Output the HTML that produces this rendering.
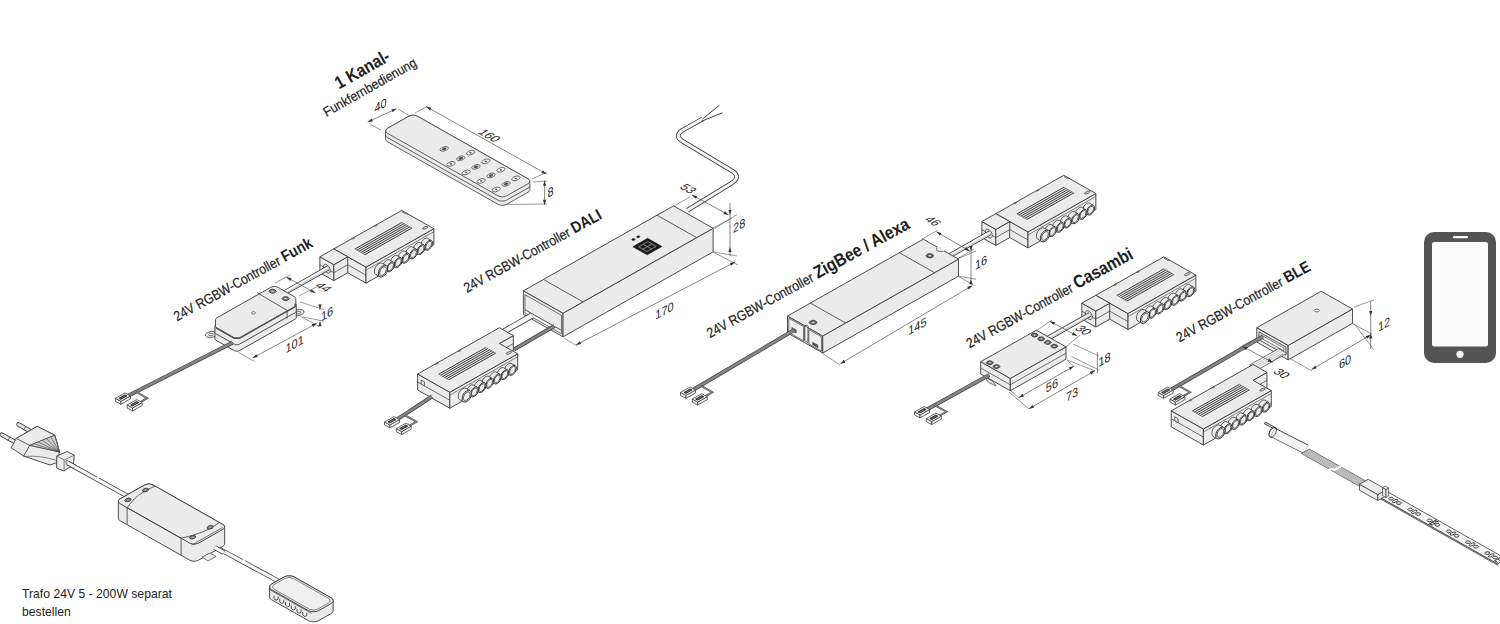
<!DOCTYPE html>
<html><head><meta charset="utf-8"><style>
html,body{margin:0;padding:0;background:#fff;width:1500px;height:624px;overflow:hidden}
svg{display:block}
text{font-family:"Liberation Sans",sans-serif}
</style></head><body>
<svg width="1500" height="624" viewBox="0 0 1500 624">
<rect width="1500" height="624" fill="#fff"/>
<text transform="translate(339.00,89.50) rotate(-29.5) scale(0.86,1)" font-size="18" font-weight="bold" text-anchor="start" fill="#1e1e1e" >1 Kanal-</text>
<text transform="translate(326.50,117.00) rotate(-29.5) scale(0.9,1)" font-size="13.5" font-weight="normal" text-anchor="start" fill="#1e1e1e" stroke="#1e1e1e" stroke-width="0.22">Funkfernbedienung</text>
<text transform="translate(177.00,321.50) rotate(-28.8) scale(0.87,1)" font-size="14" font-weight="normal" text-anchor="start" fill="#1e1e1e" stroke="#1e1e1e" stroke-width="0.22">24V RGBW-Controller <tspan font-weight="bold" font-size="16" stroke-width="0">Funk</tspan></text>
<text transform="translate(466.90,293.00) rotate(-28.8) scale(0.87,1)" font-size="14" font-weight="normal" text-anchor="start" fill="#1e1e1e" stroke="#1e1e1e" stroke-width="0.22">24V RGBW-Controller <tspan font-weight="bold" font-size="16" stroke-width="0">DALI</tspan></text>
<text transform="translate(710.00,338.20) rotate(-28.8) scale(0.87,1)" font-size="14" font-weight="normal" text-anchor="start" fill="#1e1e1e" stroke="#1e1e1e" stroke-width="0.22">24V RGBW-Controller <tspan font-weight="bold" font-size="18" stroke-width="0">ZigBee / Alexa</tspan></text>
<text transform="translate(969.50,348.50) rotate(-28.8) scale(0.87,1)" font-size="14" font-weight="normal" text-anchor="start" fill="#1e1e1e" stroke="#1e1e1e" stroke-width="0.22">24V RGBW-Controller <tspan font-weight="bold" font-size="18" stroke-width="0">Casambi</tspan></text>
<text transform="translate(1179.50,342.50) rotate(-28.8) scale(0.87,1)" font-size="14" font-weight="normal" text-anchor="start" fill="#1e1e1e" stroke="#1e1e1e" stroke-width="0.22">24V RGBW-Controller <tspan font-weight="bold" font-size="16" stroke-width="0">BLE</tspan></text>
<text transform="translate(22.00,598.40) scale(0.945,1)" font-size="12.9" font-weight="normal" text-anchor="start" fill="#1e1e1e" >Trafo 24V 5 - 200W separat</text>
<text transform="translate(22.00,616.30) scale(0.945,1)" font-size="12.9" font-weight="normal" text-anchor="start" fill="#1e1e1e" >bestellen</text>
<polygon points="385.65,135.10 385.86,134.20 386.47,133.36 387.45,132.64 408.77,120.57 410.05,120.02 411.53,119.67 413.13,119.55 414.72,119.67 416.20,120.02 417.48,120.57 528.01,183.11 528.99,183.83 529.61,184.67 529.82,185.57 529.82,189.77 529.61,190.68 528.99,191.51 528.01,192.24 506.69,204.30 505.42,204.85 503.93,205.20 502.34,205.32 500.75,205.20 499.26,204.85 497.99,204.30 387.45,141.76 386.47,141.04 385.86,140.20 385.65,139.30" fill="#ebebeb" stroke="#3a3a3a" stroke-width="0.8" />
<polygon points="385.65,130.80 385.86,129.90 386.47,129.06 387.45,128.34 408.77,116.27 410.05,115.72 411.53,115.37 413.13,115.25 414.72,115.37 416.20,115.72 417.48,116.27 528.01,178.81 528.99,179.53 529.61,180.37 529.82,181.27 529.82,185.57 529.61,186.47 528.99,187.31 528.01,188.04 506.69,200.10 505.42,200.65 503.93,201.00 502.34,201.12 500.75,201.00 499.26,200.65 497.99,200.10 387.45,137.56 386.47,136.84 385.86,136.00 385.65,135.10" fill="#ebebeb" stroke="#3a3a3a" stroke-width="0.8" />
<rect x="0.00" y="0.00" width="34.50" height="137.00" rx="5" transform="matrix(0.8704,-0.4924,0.8704,0.4924,383.10,130.80)" fill="#ebebeb" stroke="#3a3a3a" stroke-width="0.8" vector-effect="non-scaling-stroke"/>
<ellipse cx="0" cy="0" rx="4.00" ry="2.60" transform="matrix(0.8704,-0.4924,0.8704,0.4924,444.20,148.92)" fill="#f0f0f0" stroke="#3a3a3a" stroke-width="0.7" vector-effect="non-scaling-stroke"/>
<ellipse cx="0" cy="0" rx="2.00" ry="1.30" transform="matrix(0.8704,-0.4924,0.8704,0.4924,444.20,148.92)" fill="#555" stroke="#3a3a3a" stroke-width="0.5" vector-effect="non-scaling-stroke"/>
<ellipse cx="0" cy="0" rx="4.00" ry="2.60" transform="matrix(0.8704,-0.4924,0.8704,0.4924,450.90,163.84)" fill="#f0f0f0" stroke="#3a3a3a" stroke-width="0.7" vector-effect="non-scaling-stroke"/>
<ellipse cx="0" cy="0" rx="0.80" ry="0.80" transform="matrix(0.8704,-0.4924,0.8704,0.4924,450.90,163.84)" fill="#555" stroke="#3a3a3a" stroke-width="0.3" vector-effect="non-scaling-stroke"/>
<ellipse cx="0" cy="0" rx="4.00" ry="2.60" transform="matrix(0.8704,-0.4924,0.8704,0.4924,460.74,158.28)" fill="#f0f0f0" stroke="#3a3a3a" stroke-width="0.7" vector-effect="non-scaling-stroke"/>
<ellipse cx="0" cy="0" rx="2.00" ry="1.30" transform="matrix(0.8704,-0.4924,0.8704,0.4924,460.74,158.28)" fill="#555" stroke="#3a3a3a" stroke-width="0.5" vector-effect="non-scaling-stroke"/>
<ellipse cx="0" cy="0" rx="4.00" ry="2.60" transform="matrix(0.8704,-0.4924,0.8704,0.4924,470.57,152.71)" fill="#f0f0f0" stroke="#3a3a3a" stroke-width="0.7" vector-effect="non-scaling-stroke"/>
<ellipse cx="0" cy="0" rx="0.80" ry="0.80" transform="matrix(0.8704,-0.4924,0.8704,0.4924,470.57,152.71)" fill="#555" stroke="#3a3a3a" stroke-width="0.3" vector-effect="non-scaling-stroke"/>
<ellipse cx="0" cy="0" rx="4.00" ry="2.60" transform="matrix(0.8704,-0.4924,0.8704,0.4924,466.13,172.46)" fill="#f0f0f0" stroke="#3a3a3a" stroke-width="0.7" vector-effect="non-scaling-stroke"/>
<ellipse cx="0" cy="0" rx="0.80" ry="0.80" transform="matrix(0.8704,-0.4924,0.8704,0.4924,466.13,172.46)" fill="#555" stroke="#3a3a3a" stroke-width="0.3" vector-effect="non-scaling-stroke"/>
<ellipse cx="0" cy="0" rx="4.00" ry="2.60" transform="matrix(0.8704,-0.4924,0.8704,0.4924,475.97,166.89)" fill="#f0f0f0" stroke="#3a3a3a" stroke-width="0.7" vector-effect="non-scaling-stroke"/>
<ellipse cx="0" cy="0" rx="2.00" ry="1.30" transform="matrix(0.8704,-0.4924,0.8704,0.4924,475.97,166.89)" fill="#555" stroke="#3a3a3a" stroke-width="0.5" vector-effect="non-scaling-stroke"/>
<ellipse cx="0" cy="0" rx="4.00" ry="2.60" transform="matrix(0.8704,-0.4924,0.8704,0.4924,485.80,161.33)" fill="#f0f0f0" stroke="#3a3a3a" stroke-width="0.7" vector-effect="non-scaling-stroke"/>
<ellipse cx="0" cy="0" rx="0.80" ry="0.80" transform="matrix(0.8704,-0.4924,0.8704,0.4924,485.80,161.33)" fill="#555" stroke="#3a3a3a" stroke-width="0.3" vector-effect="non-scaling-stroke"/>
<ellipse cx="0" cy="0" rx="4.00" ry="2.60" transform="matrix(0.8704,-0.4924,0.8704,0.4924,481.19,180.98)" fill="#f0f0f0" stroke="#3a3a3a" stroke-width="0.7" vector-effect="non-scaling-stroke"/>
<ellipse cx="0" cy="0" rx="0.80" ry="0.80" transform="matrix(0.8704,-0.4924,0.8704,0.4924,481.19,180.98)" fill="#555" stroke="#3a3a3a" stroke-width="0.3" vector-effect="non-scaling-stroke"/>
<ellipse cx="0" cy="0" rx="4.00" ry="2.60" transform="matrix(0.8704,-0.4924,0.8704,0.4924,491.02,175.41)" fill="#f0f0f0" stroke="#3a3a3a" stroke-width="0.7" vector-effect="non-scaling-stroke"/>
<ellipse cx="0" cy="0" rx="2.00" ry="1.30" transform="matrix(0.8704,-0.4924,0.8704,0.4924,491.02,175.41)" fill="#555" stroke="#3a3a3a" stroke-width="0.5" vector-effect="non-scaling-stroke"/>
<ellipse cx="0" cy="0" rx="4.00" ry="2.60" transform="matrix(0.8704,-0.4924,0.8704,0.4924,500.86,169.85)" fill="#f0f0f0" stroke="#3a3a3a" stroke-width="0.7" vector-effect="non-scaling-stroke"/>
<ellipse cx="0" cy="0" rx="0.80" ry="0.80" transform="matrix(0.8704,-0.4924,0.8704,0.4924,500.86,169.85)" fill="#555" stroke="#3a3a3a" stroke-width="0.3" vector-effect="non-scaling-stroke"/>
<ellipse cx="0" cy="0" rx="4.00" ry="2.60" transform="matrix(0.8704,-0.4924,0.8704,0.4924,496.25,189.50)" fill="#f0f0f0" stroke="#3a3a3a" stroke-width="0.7" vector-effect="non-scaling-stroke"/>
<ellipse cx="0" cy="0" rx="0.80" ry="0.80" transform="matrix(0.8704,-0.4924,0.8704,0.4924,496.25,189.50)" fill="#555" stroke="#3a3a3a" stroke-width="0.3" vector-effect="non-scaling-stroke"/>
<ellipse cx="0" cy="0" rx="4.00" ry="2.60" transform="matrix(0.8704,-0.4924,0.8704,0.4924,506.08,183.93)" fill="#f0f0f0" stroke="#3a3a3a" stroke-width="0.7" vector-effect="non-scaling-stroke"/>
<ellipse cx="0" cy="0" rx="2.00" ry="1.30" transform="matrix(0.8704,-0.4924,0.8704,0.4924,506.08,183.93)" fill="#555" stroke="#3a3a3a" stroke-width="0.5" vector-effect="non-scaling-stroke"/>
<ellipse cx="0" cy="0" rx="4.00" ry="2.60" transform="matrix(0.8704,-0.4924,0.8704,0.4924,515.92,178.37)" fill="#f0f0f0" stroke="#3a3a3a" stroke-width="0.7" vector-effect="non-scaling-stroke"/>
<ellipse cx="0" cy="0" rx="0.80" ry="0.80" transform="matrix(0.8704,-0.4924,0.8704,0.4924,515.92,178.37)" fill="#555" stroke="#3a3a3a" stroke-width="0.3" vector-effect="non-scaling-stroke"/>
<line x1="370.50" y1="124.50" x2="381.00" y2="130.00" stroke="#555" stroke-width="0.6" />
<line x1="398.00" y1="109.00" x2="410.00" y2="116.00" stroke="#555" stroke-width="0.6" />
<line x1="367.70" y1="122.10" x2="396.50" y2="108.70" stroke="#444" stroke-width="0.65" />
<polygon points="396.50,108.70 392.64,112.26 391.29,109.36" fill="#333"/>
<polygon points="367.70,122.10 371.56,118.54 372.91,121.44" fill="#333"/>
<line x1="415.00" y1="113.00" x2="428.00" y2="106.00" stroke="#555" stroke-width="0.6" />
<line x1="532.00" y1="179.00" x2="547.00" y2="172.00" stroke="#555" stroke-width="0.6" />
<line x1="426.30" y1="106.70" x2="546.50" y2="174.00" stroke="#444" stroke-width="0.65" />
<polygon points="546.50,174.00 541.36,172.95 542.92,170.16" fill="#333"/>
<polygon points="426.30,106.70 431.44,107.75 429.88,110.54" fill="#333"/>
<line x1="533.00" y1="182.00" x2="547.00" y2="181.00" stroke="#555" stroke-width="0.6" />
<line x1="505.00" y1="204.50" x2="547.00" y2="204.00" stroke="#555" stroke-width="0.6" />
<line x1="544.60" y1="180.80" x2="544.60" y2="204.80" stroke="#444" stroke-width="0.65" />
<polygon points="544.60,204.80 543.00,199.80 546.20,199.80" fill="#333"/>
<polygon points="544.60,180.80 546.20,185.80 543.00,185.80" fill="#333"/>
<polygon points="333.80,264.90 366.00,283.12 366.00,267.12 333.80,248.90" fill="#ebebeb" stroke="#3a3a3a" stroke-width="0.9" />
<polygon points="366.00,283.12 433.89,244.71 433.89,228.71 366.00,267.12" fill="#ebebeb" stroke="#3a3a3a" stroke-width="0.9" />
<polygon points="333.80,248.90 401.69,210.49 433.89,228.71 366.00,267.12" fill="#ebebeb" stroke="#3a3a3a" stroke-width="0.9" />
<line x1="333.80" y1="256.90" x2="366.00" y2="275.12" stroke="#3a3a3a" stroke-width="0.7" />
<line x1="366.00" y1="270.12" x2="433.89" y2="231.71" stroke="#3a3a3a" stroke-width="0.6" />
<polygon points="319.87,272.78 333.80,280.66 333.80,264.66 319.87,256.78" fill="#ebebeb" stroke="#3a3a3a" stroke-width="0.9" />
<polygon points="333.80,280.66 347.73,272.78 347.73,256.78 333.80,264.66" fill="#ebebeb" stroke="#3a3a3a" stroke-width="0.9" />
<polygon points="319.87,256.78 333.80,248.90 347.73,256.78 333.80,264.66" fill="#ebebeb" stroke="#3a3a3a" stroke-width="0.9" />
<line x1="319.87" y1="264.78" x2="333.80" y2="272.66" stroke="#3a3a3a" stroke-width="0.7" />
<line x1="333.80" y1="272.66" x2="347.73" y2="264.78" stroke="#3a3a3a" stroke-width="0.7" />
<ellipse cx="0" cy="0" rx="4.00" ry="4.00" transform="matrix(0.8704,0.4924,0,1,326.84,268.72)" fill="#e8e8e8" stroke="#3a3a3a" stroke-width="0.8" vector-effect="non-scaling-stroke"/>
<polygon points="354.69,248.90 401.69,222.31 412.13,228.22 365.13,254.81" fill="#e2e2e2" stroke="none" stroke-width="0" />
<line x1="354.95" y1="249.05" x2="401.95" y2="222.46" stroke="#3a3a3a" stroke-width="0.95" />
<line x1="356.93" y1="250.17" x2="403.93" y2="223.58" stroke="#3a3a3a" stroke-width="0.95" />
<line x1="358.92" y1="251.29" x2="405.92" y2="224.70" stroke="#3a3a3a" stroke-width="0.95" />
<line x1="360.90" y1="252.42" x2="407.90" y2="225.83" stroke="#3a3a3a" stroke-width="0.95" />
<line x1="362.89" y1="253.54" x2="409.89" y2="226.95" stroke="#3a3a3a" stroke-width="0.95" />
<line x1="364.87" y1="254.66" x2="411.87" y2="228.07" stroke="#3a3a3a" stroke-width="0.95" />
<line x1="354.69" y1="248.90" x2="365.13" y2="254.81" stroke="#555" stroke-width="0.6" />
<line x1="401.69" y1="222.31" x2="412.13" y2="228.22" stroke="#555" stroke-width="0.6" />
<polygon points="351.64,238.81 353.12,238.95 354.51,238.17 354.25,237.33" fill="#fafafa" stroke="#3a3a3a" stroke-width="0.7" />
<polygon points="374.27,226.00 375.75,226.15 377.14,225.36 376.88,224.53" fill="#fafafa" stroke="#3a3a3a" stroke-width="0.7" />
<polygon points="402.56,210.98 402.21,211.97 405.87,214.04 407.61,213.84" fill="#fafafa" stroke="#3a3a3a" stroke-width="0.7" />
<ellipse cx="0" cy="0" rx="2.80" ry="1.30" transform="matrix(0.8704,-0.4924,0.8704,0.4924,425.19,227.73)" fill="#c8c8c8" stroke="#444" stroke-width="0.7" vector-effect="non-scaling-stroke"/>
<ellipse cx="0" cy="0" rx="4.50" ry="4.50" transform="matrix(0.8704,-0.4924,0,1,424.75,243.08)" fill="#ebebeb" stroke="#3a3a3a" stroke-width="0.8" vector-effect="non-scaling-stroke"/>
<polygon points="422.00,247.84 425.92,250.06 431.42,240.54 427.50,238.32" fill="#ebebeb" stroke="none" stroke-width="0.0" />
<line x1="422.00" y1="247.84" x2="425.92" y2="250.06" stroke="#3a3a3a" stroke-width="0.8" />
<line x1="427.50" y1="238.32" x2="431.42" y2="240.54" stroke="#3a3a3a" stroke-width="0.8" />
<ellipse cx="0" cy="0" rx="4.50" ry="4.50" transform="matrix(0.8704,-0.4924,0,1,428.67,245.30)" fill="#ebebeb" stroke="#333" stroke-width="1.0" vector-effect="non-scaling-stroke"/>
<ellipse cx="0" cy="0" rx="3.33" ry="3.33" transform="matrix(0.8704,-0.4924,0,1,428.67,245.30)" fill="#efefef" stroke="#444" stroke-width="0.9" vector-effect="non-scaling-stroke"/>
<ellipse cx="0" cy="0" rx="4.50" ry="4.50" transform="matrix(0.8704,-0.4924,0,1,417.14,247.39)" fill="#ebebeb" stroke="#3a3a3a" stroke-width="0.8" vector-effect="non-scaling-stroke"/>
<polygon points="414.39,252.15 418.30,254.37 423.80,244.84 419.88,242.63" fill="#ebebeb" stroke="none" stroke-width="0.0" />
<line x1="414.39" y1="252.15" x2="418.30" y2="254.37" stroke="#3a3a3a" stroke-width="0.8" />
<line x1="419.88" y1="242.63" x2="423.80" y2="244.84" stroke="#3a3a3a" stroke-width="0.8" />
<ellipse cx="0" cy="0" rx="4.50" ry="4.50" transform="matrix(0.8704,-0.4924,0,1,421.05,249.61)" fill="#ebebeb" stroke="#333" stroke-width="1.0" vector-effect="non-scaling-stroke"/>
<ellipse cx="0" cy="0" rx="3.33" ry="3.33" transform="matrix(0.8704,-0.4924,0,1,421.05,249.61)" fill="#efefef" stroke="#444" stroke-width="0.9" vector-effect="non-scaling-stroke"/>
<ellipse cx="0" cy="0" rx="4.50" ry="4.50" transform="matrix(0.8704,-0.4924,0,1,409.52,251.70)" fill="#ebebeb" stroke="#3a3a3a" stroke-width="0.8" vector-effect="non-scaling-stroke"/>
<polygon points="406.77,256.46 410.69,258.68 416.19,249.15 412.27,246.94" fill="#ebebeb" stroke="none" stroke-width="0.0" />
<line x1="406.77" y1="256.46" x2="410.69" y2="258.68" stroke="#3a3a3a" stroke-width="0.8" />
<line x1="412.27" y1="246.94" x2="416.19" y2="249.15" stroke="#3a3a3a" stroke-width="0.8" />
<ellipse cx="0" cy="0" rx="4.50" ry="4.50" transform="matrix(0.8704,-0.4924,0,1,413.44,253.91)" fill="#ebebeb" stroke="#333" stroke-width="1.0" vector-effect="non-scaling-stroke"/>
<ellipse cx="0" cy="0" rx="3.33" ry="3.33" transform="matrix(0.8704,-0.4924,0,1,413.44,253.91)" fill="#efefef" stroke="#444" stroke-width="0.9" vector-effect="non-scaling-stroke"/>
<ellipse cx="0" cy="0" rx="4.50" ry="4.50" transform="matrix(0.8704,-0.4924,0,1,401.91,256.01)" fill="#ebebeb" stroke="#3a3a3a" stroke-width="0.8" vector-effect="non-scaling-stroke"/>
<polygon points="399.16,260.77 403.07,262.98 408.57,253.46 404.65,251.25" fill="#ebebeb" stroke="none" stroke-width="0.0" />
<line x1="399.16" y1="260.77" x2="403.07" y2="262.98" stroke="#3a3a3a" stroke-width="0.8" />
<line x1="404.65" y1="251.25" x2="408.57" y2="253.46" stroke="#3a3a3a" stroke-width="0.8" />
<ellipse cx="0" cy="0" rx="4.50" ry="4.50" transform="matrix(0.8704,-0.4924,0,1,405.82,258.22)" fill="#ebebeb" stroke="#333" stroke-width="1.0" vector-effect="non-scaling-stroke"/>
<ellipse cx="0" cy="0" rx="3.33" ry="3.33" transform="matrix(0.8704,-0.4924,0,1,405.82,258.22)" fill="#efefef" stroke="#444" stroke-width="0.9" vector-effect="non-scaling-stroke"/>
<ellipse cx="0" cy="0" rx="4.50" ry="4.50" transform="matrix(0.8704,-0.4924,0,1,394.29,260.32)" fill="#ebebeb" stroke="#3a3a3a" stroke-width="0.8" vector-effect="non-scaling-stroke"/>
<polygon points="391.54,265.08 395.46,267.29 400.95,257.77 397.04,255.55" fill="#ebebeb" stroke="none" stroke-width="0.0" />
<line x1="391.54" y1="265.08" x2="395.46" y2="267.29" stroke="#3a3a3a" stroke-width="0.8" />
<line x1="397.04" y1="255.55" x2="400.95" y2="257.77" stroke="#3a3a3a" stroke-width="0.8" />
<ellipse cx="0" cy="0" rx="4.50" ry="4.50" transform="matrix(0.8704,-0.4924,0,1,398.21,262.53)" fill="#ebebeb" stroke="#333" stroke-width="1.0" vector-effect="non-scaling-stroke"/>
<ellipse cx="0" cy="0" rx="3.33" ry="3.33" transform="matrix(0.8704,-0.4924,0,1,398.21,262.53)" fill="#efefef" stroke="#444" stroke-width="0.9" vector-effect="non-scaling-stroke"/>
<ellipse cx="0" cy="0" rx="4.50" ry="4.50" transform="matrix(0.8704,-0.4924,0,1,386.67,264.62)" fill="#ebebeb" stroke="#3a3a3a" stroke-width="0.8" vector-effect="non-scaling-stroke"/>
<polygon points="383.93,269.39 387.84,271.60 393.34,262.08 389.42,259.86" fill="#ebebeb" stroke="none" stroke-width="0.0" />
<line x1="383.93" y1="269.39" x2="387.84" y2="271.60" stroke="#3a3a3a" stroke-width="0.8" />
<line x1="389.42" y1="259.86" x2="393.34" y2="262.08" stroke="#3a3a3a" stroke-width="0.8" />
<ellipse cx="0" cy="0" rx="4.50" ry="4.50" transform="matrix(0.8704,-0.4924,0,1,390.59,266.84)" fill="#ebebeb" stroke="#333" stroke-width="1.0" vector-effect="non-scaling-stroke"/>
<ellipse cx="0" cy="0" rx="3.33" ry="3.33" transform="matrix(0.8704,-0.4924,0,1,390.59,266.84)" fill="#efefef" stroke="#444" stroke-width="0.9" vector-effect="non-scaling-stroke"/>
<ellipse cx="0" cy="0" rx="5.30" ry="5.30" transform="matrix(0.8704,-0.4924,0,1,379.06,268.93)" fill="#ebebeb" stroke="#3a3a3a" stroke-width="0.8" vector-effect="non-scaling-stroke"/>
<polygon points="375.82,274.54 379.74,276.76 386.21,265.54 382.30,263.33" fill="#ebebeb" stroke="none" stroke-width="0.0" />
<line x1="375.82" y1="274.54" x2="379.74" y2="276.76" stroke="#3a3a3a" stroke-width="0.8" />
<line x1="382.30" y1="263.33" x2="386.21" y2="265.54" stroke="#3a3a3a" stroke-width="0.8" />
<ellipse cx="0" cy="0" rx="5.30" ry="5.30" transform="matrix(0.8704,-0.4924,0,1,382.98,271.15)" fill="#ebebeb" stroke="#333" stroke-width="1.0" vector-effect="non-scaling-stroke"/>
<ellipse cx="0" cy="0" rx="3.92" ry="3.92" transform="matrix(0.8704,-0.4924,0,1,382.98,271.15)" fill="#efefef" stroke="#444" stroke-width="0.9" vector-effect="non-scaling-stroke"/>
<path d="M281.58,294.32 L328.14,267.98" fill="none" stroke="#3a3a3a" stroke-width="5.00" stroke-linejoin="round" stroke-linecap="butt"/>
<path d="M281.58,294.32 L328.14,267.98" fill="none" stroke="#f6f6f6" stroke-width="3.40" stroke-linejoin="round" stroke-linecap="butt"/>
<line x1="282.36" y1="294.77" x2="328.49" y2="268.67" stroke="#999" stroke-width="0.5" />
<ellipse cx="0" cy="0" rx="5" ry="4" transform="matrix(0.8704,-0.4924,0.8704,0.4924,211.0,334.5)" fill="#ebebeb" stroke="#3a3a3a" stroke-width="0.8" vector-effect="non-scaling-stroke"/>
<ellipse cx="0" cy="0" rx="2" ry="1.6" transform="matrix(0.8704,-0.4924,0.8704,0.4924,211.0,334.5)" fill="#f4f4f4" stroke="#3a3a3a" stroke-width="0.7" vector-effect="non-scaling-stroke"/>
<ellipse cx="0" cy="0" rx="5" ry="4" transform="matrix(0.8704,-0.4924,0.8704,0.4924,298.5,312.5)" fill="#ebebeb" stroke="#3a3a3a" stroke-width="0.8" vector-effect="non-scaling-stroke"/>
<ellipse cx="0" cy="0" rx="2" ry="1.6" transform="matrix(0.8704,-0.4924,0.8704,0.4924,298.5,312.5)" fill="#f4f4f4" stroke="#3a3a3a" stroke-width="0.7" vector-effect="non-scaling-stroke"/>
<polygon points="214.93,332.30 215.06,331.76 215.42,331.25 216.01,330.82 271.71,299.31 272.48,298.98 273.37,298.77 274.32,298.70 275.28,298.77 276.17,298.98 276.94,299.31 295.21,309.65 295.80,310.08 296.17,310.58 296.30,311.13 296.30,317.63 296.17,318.17 295.80,318.67 295.21,319.10 239.51,350.62 238.75,350.95 237.85,351.16 236.90,351.23 235.94,351.16 235.05,350.95 234.29,350.62 216.01,340.28 215.42,339.85 215.06,339.34 214.93,338.80" fill="#ebebeb" stroke="#3a3a3a" stroke-width="0.9" />
<polygon points="214.93,326.30 215.06,325.76 215.42,325.25 216.01,324.82 271.71,293.31 272.48,292.98 273.37,292.77 274.32,292.70 275.28,292.77 276.17,292.98 276.94,293.31 295.21,303.65 295.80,304.08 296.17,304.58 296.30,305.13 296.30,311.13 296.17,311.67 295.80,312.17 295.21,312.60 239.51,344.12 238.75,344.45 237.85,344.66 236.90,344.73 235.94,344.66 235.05,344.45 234.29,344.12 216.01,333.78 215.42,333.35 215.06,332.84 214.93,332.30" fill="#ebebeb" stroke="#3a3a3a" stroke-width="0.9" />
<polygon points="215.44,319.80 215.61,319.08 216.10,318.41 216.88,317.83 270.84,287.30 271.86,286.86 273.05,286.58 274.32,286.48 275.60,286.58 276.79,286.86 277.81,287.30 294.34,296.66 295.13,297.23 295.62,297.90 295.79,298.63 295.79,305.13 295.62,305.85 295.13,306.52 294.34,307.10 240.38,337.63 239.36,338.07 238.17,338.35 236.90,338.44 235.62,338.35 234.44,338.07 233.42,337.63 216.88,328.27 216.10,327.69 215.61,327.02 215.44,326.30" fill="#ebebeb" stroke="#3a3a3a" stroke-width="0.9" />
<polyline points="216.01,327.78 234.29,338.12 239.51,338.12 295.21,306.60 295.21,303.65" fill="none" stroke="#555" stroke-width="1.6" />
<polyline points="257.20,292.70 287.10,310.40 287.10,318.50" fill="none" stroke="#3a3a3a" stroke-width="0.8" />
<ellipse cx="0" cy="0" rx="1.70" ry="1.70" transform="matrix(0.8704,-0.4924,0.8704,0.4924,253.44,312.91)" fill="#f4f4f4" stroke="#3a3a3a" stroke-width="0.6" vector-effect="non-scaling-stroke"/>
<ellipse cx="0" cy="0" rx="2.80" ry="2.80" transform="matrix(0.8704,-0.4924,0.8704,0.4924,272.58,291.24)" fill="#9a9a9a" stroke="#333" stroke-width="0.9" vector-effect="non-scaling-stroke"/>
<ellipse cx="0" cy="0" rx="1.40" ry="1.40" transform="matrix(0.8704,-0.4924,0.8704,0.4924,272.58,291.24)" fill="#e0e0e0" stroke="#444" stroke-width="0.6" vector-effect="non-scaling-stroke"/>
<ellipse cx="0" cy="0" rx="2.80" ry="2.80" transform="matrix(0.8704,-0.4924,0.8704,0.4924,285.64,298.63)" fill="#9a9a9a" stroke="#333" stroke-width="0.9" vector-effect="non-scaling-stroke"/>
<ellipse cx="0" cy="0" rx="1.40" ry="1.40" transform="matrix(0.8704,-0.4924,0.8704,0.4924,285.64,298.63)" fill="#e0e0e0" stroke="#444" stroke-width="0.6" vector-effect="non-scaling-stroke"/>
<path d="M127.67,395.91 L232.55,342.66" fill="none" stroke="#484848" stroke-width="3.90" stroke-linejoin="round"/>
<path d="M127.67,395.91 L232.55,342.66" fill="none" stroke="#858585" stroke-width="2.50" stroke-linejoin="round"/>
<polyline points="135.51,391.48 147.26,398.13 139.42,402.56" fill="none" stroke="#4a4a4a" stroke-width="1.9" />
<polyline points="135.51,391.48 147.26,398.13 139.42,402.56" fill="none" stroke="#a8a8a8" stroke-width="0.7" />
<polygon points="115.40,401.30 120.80,404.35 120.80,401.35 115.40,398.30" fill="#f2f2f2" stroke="#3a3a3a" stroke-width="0.75" />
<polygon points="120.80,404.35 130.37,398.94 130.37,395.94 120.80,401.35" fill="#f2f2f2" stroke="#3a3a3a" stroke-width="0.75" />
<polygon points="115.40,398.30 124.97,392.88 130.37,395.94 120.80,401.35" fill="#f2f2f2" stroke="#3a3a3a" stroke-width="0.75" />
<polygon points="118.88,398.30 124.97,394.85 126.89,395.94 120.80,399.38" fill="#2e2e2e" stroke="#2e2e2e" stroke-width="0.9" stroke-linejoin="round"/>
<line x1="120.54" y1="398.45" x2="125.24" y2="395.79" stroke="#bbb" stroke-width="0.5" />
<polygon points="127.15,407.95 132.55,411.00 132.55,408.00 127.15,404.95" fill="#f2f2f2" stroke="#3a3a3a" stroke-width="0.75" />
<polygon points="132.55,411.00 142.12,405.58 142.12,402.58 132.55,408.00" fill="#f2f2f2" stroke="#3a3a3a" stroke-width="0.75" />
<polygon points="127.15,404.95 136.72,399.53 142.12,402.58 132.55,408.00" fill="#f2f2f2" stroke="#3a3a3a" stroke-width="0.75" />
<polygon points="130.63,404.95 136.72,401.50 138.64,402.58 132.55,406.03" fill="#2e2e2e" stroke="#2e2e2e" stroke-width="0.9" stroke-linejoin="round"/>
<line x1="132.28" y1="405.10" x2="136.98" y2="402.44" stroke="#bbb" stroke-width="0.5" />
<line x1="238.50" y1="352.50" x2="254.50" y2="361.50" stroke="#555" stroke-width="0.6" />
<line x1="300.50" y1="316.50" x2="319.50" y2="326.50" stroke="#555" stroke-width="0.6" />
<line x1="252.60" y1="358.00" x2="316.80" y2="323.30" stroke="#444" stroke-width="0.65" />
<polygon points="316.80,323.30 313.16,327.08 311.64,324.27" fill="#333"/>
<polygon points="252.60,358.00 256.24,354.22 257.76,357.03" fill="#333"/>
<line x1="300.00" y1="302.00" x2="324.00" y2="309.60" stroke="#555" stroke-width="0.6" />
<line x1="303.00" y1="317.00" x2="324.00" y2="321.20" stroke="#555" stroke-width="0.6" />
<line x1="320.00" y1="304.00" x2="320.00" y2="309.60" stroke="#444" stroke-width="0.65" />
<polygon points="320.00,309.60 318.40,304.60 321.60,304.60" fill="#333"/>
<polygon points="320.00,321.20 321.60,326.20 318.40,326.20" fill="#333"/>
<line x1="320.00" y1="321.20" x2="320.00" y2="326.00" stroke="#444" stroke-width="0.65" />
<line x1="275.00" y1="283.00" x2="290.00" y2="275.00" stroke="#555" stroke-width="0.6" />
<line x1="299.00" y1="296.00" x2="318.00" y2="286.00" stroke="#555" stroke-width="0.6" />
<line x1="286.50" y1="277.20" x2="315.30" y2="293.00" stroke="#444" stroke-width="0.65" />
<polygon points="315.30,293.00 310.15,292.00 311.69,289.19" fill="#333"/>
<polygon points="286.50,277.20 291.65,278.20 290.11,281.01" fill="#333"/>
<path d="M687.4,210.3 L731.5,183.2 Q741,177 733,171.5 L683,141.5 Q674,136 682,130.5 L702.6,118.9" fill="none" stroke="#3a3a3a" stroke-width="4.60" stroke-linejoin="round"/>
<path d="M687.4,210.3 L731.5,183.2 Q741,177 733,171.5 L683,141.5 Q674,136 682,130.5 L702.6,118.9" fill="none" stroke="#f6f6f6" stroke-width="3.00" stroke-linejoin="round"/>
<line x1="702.60" y1="118.90" x2="719.40" y2="105.20" stroke="#3a3a3a" stroke-width="1.0" />
<line x1="701.00" y1="121.50" x2="722.40" y2="112.80" stroke="#3a3a3a" stroke-width="1.0" />
<polygon points="523.40,314.40 563.00,336.81 563.00,313.21 523.40,290.80" fill="#ebebeb" stroke="#3a3a3a" stroke-width="0.9" />
<polygon points="563.00,336.81 713.14,251.86 713.14,228.26 563.00,313.21" fill="#ebebeb" stroke="#3a3a3a" stroke-width="0.9" />
<polygon points="523.40,290.80 673.54,205.86 713.14,228.26 563.00,313.21" fill="#ebebeb" stroke="#3a3a3a" stroke-width="0.9" />
<polygon points="524.97,294.69 561.43,315.32 561.43,330.42 524.97,309.79" fill="#ebebeb" stroke="#3a3a3a" stroke-width="0.7" />
<polygon points="524.97,309.79 561.43,330.42 561.43,333.72 524.97,313.09" fill="#fafafa" stroke="#3a3a3a" stroke-width="0.7" />
<line x1="543.42" y1="279.47" x2="583.02" y2="301.88" stroke="#3a3a3a" stroke-width="0.8" />
<line x1="657.00" y1="215.21" x2="696.60" y2="237.62" stroke="#3a3a3a" stroke-width="0.8" />
<polygon points="632.80,246.73 647.60,238.36 661.96,246.48 647.16,254.85" fill="#1a1a1a" stroke="#1a1a1a" stroke-width="0.6" />
<ellipse cx="0" cy="0" rx="1.50" ry="1.30" transform="matrix(0.8704,-0.4924,0.8704,0.4924,633.41,239.49)" fill="#1a1a1a" stroke="#1a1a1a" stroke-width="0.4" vector-effect="non-scaling-stroke"/>
<ellipse cx="0" cy="0" rx="1.50" ry="1.30" transform="matrix(0.8704,-0.4924,0.8704,0.4924,638.20,236.78)" fill="#1a1a1a" stroke="#1a1a1a" stroke-width="0.4" vector-effect="non-scaling-stroke"/>
<polygon points="638.72,246.83 647.86,241.66 656.13,246.33 646.99,251.50" fill="none" stroke="#c8c8c8" stroke-width="0.6" />
<line x1="643.29" y1="244.24" x2="651.56" y2="248.92" stroke="#c8c8c8" stroke-width="0.6" />
<line x1="642.86" y1="249.17" x2="652.00" y2="244.00" stroke="#c8c8c8" stroke-width="0.6" />
<path d="M532.00,315.50 L500.50,333.50" fill="none" stroke="#3a3a3a" stroke-width="6.10" stroke-linejoin="round" stroke-linecap="butt"/>
<path d="M532.00,315.50 L500.50,333.50" fill="none" stroke="#f6f6f6" stroke-width="4.50" stroke-linejoin="round" stroke-linecap="butt"/>
<path d="M554.40,326.00 L514.00,349.50" fill="none" stroke="#484848" stroke-width="3.90" stroke-linejoin="round"/>
<path d="M554.40,326.00 L514.00,349.50" fill="none" stroke="#858585" stroke-width="2.50" stroke-linejoin="round"/>
<polygon points="499.41,359.47 513.34,351.59 513.34,335.59 499.41,343.47" fill="#ebebeb" stroke="#3a3a3a" stroke-width="0.9" />
<line x1="499.41" y1="351.47" x2="513.34" y2="343.59" stroke="#3a3a3a" stroke-width="0.7" />
<polygon points="417.60,390.00 449.80,408.22 449.80,392.22 417.60,374.00" fill="#ebebeb" stroke="#3a3a3a" stroke-width="0.9" />
<polygon points="449.80,408.22 517.69,369.81 517.69,353.81 449.80,392.22" fill="#ebebeb" stroke="#3a3a3a" stroke-width="0.9" />
<polygon points="417.60,374.00 499.41,327.71 513.34,335.59 499.41,343.47 517.69,353.81 449.80,392.22" fill="#ebebeb" stroke="#3a3a3a" stroke-width="0.9" />
<line x1="417.60" y1="382.00" x2="449.80" y2="400.22" stroke="#3a3a3a" stroke-width="0.7" />
<line x1="449.80" y1="395.22" x2="517.69" y2="356.81" stroke="#3a3a3a" stroke-width="0.6" />
<polygon points="421.08,379.97 424.56,381.94 424.56,385.94 421.08,383.97" fill="#ddd" stroke="#3a3a3a" stroke-width="0.7" />
<polygon points="438.49,374.00 485.49,347.41 495.93,353.32 448.93,379.91" fill="#e2e2e2" stroke="none" stroke-width="0" />
<line x1="438.75" y1="374.15" x2="485.75" y2="347.56" stroke="#3a3a3a" stroke-width="0.95" />
<line x1="440.73" y1="375.27" x2="487.73" y2="348.68" stroke="#3a3a3a" stroke-width="0.95" />
<line x1="442.72" y1="376.39" x2="489.72" y2="349.80" stroke="#3a3a3a" stroke-width="0.95" />
<line x1="444.70" y1="377.52" x2="491.70" y2="350.93" stroke="#3a3a3a" stroke-width="0.95" />
<line x1="446.69" y1="378.64" x2="493.69" y2="352.05" stroke="#3a3a3a" stroke-width="0.95" />
<line x1="448.67" y1="379.76" x2="495.67" y2="353.17" stroke="#3a3a3a" stroke-width="0.95" />
<line x1="438.49" y1="374.00" x2="448.93" y2="379.91" stroke="#555" stroke-width="0.6" />
<line x1="485.49" y1="347.41" x2="495.93" y2="353.32" stroke="#555" stroke-width="0.6" />
<polygon points="435.44,363.91 436.92,364.05 438.31,363.27 438.05,362.43" fill="#fafafa" stroke="#3a3a3a" stroke-width="0.7" />
<polygon points="458.07,351.10 459.55,351.25 460.94,350.46 460.68,349.63" fill="#fafafa" stroke="#3a3a3a" stroke-width="0.7" />
<ellipse cx="0" cy="0" rx="2.80" ry="1.30" transform="matrix(0.8704,-0.4924,0.8704,0.4924,508.99,352.83)" fill="#c8c8c8" stroke="#444" stroke-width="0.7" vector-effect="non-scaling-stroke"/>
<ellipse cx="0" cy="0" rx="4.50" ry="4.50" transform="matrix(0.8704,-0.4924,0,1,508.55,368.18)" fill="#ebebeb" stroke="#3a3a3a" stroke-width="0.8" vector-effect="non-scaling-stroke"/>
<polygon points="505.80,372.94 509.72,375.16 515.22,365.64 511.30,363.42" fill="#ebebeb" stroke="none" stroke-width="0.0" />
<line x1="505.80" y1="372.94" x2="509.72" y2="375.16" stroke="#3a3a3a" stroke-width="0.8" />
<line x1="511.30" y1="363.42" x2="515.22" y2="365.64" stroke="#3a3a3a" stroke-width="0.8" />
<ellipse cx="0" cy="0" rx="4.50" ry="4.50" transform="matrix(0.8704,-0.4924,0,1,512.47,370.40)" fill="#ebebeb" stroke="#333" stroke-width="1.0" vector-effect="non-scaling-stroke"/>
<ellipse cx="0" cy="0" rx="3.33" ry="3.33" transform="matrix(0.8704,-0.4924,0,1,512.47,370.40)" fill="#efefef" stroke="#444" stroke-width="0.9" vector-effect="non-scaling-stroke"/>
<ellipse cx="0" cy="0" rx="4.50" ry="4.50" transform="matrix(0.8704,-0.4924,0,1,500.94,372.49)" fill="#ebebeb" stroke="#3a3a3a" stroke-width="0.8" vector-effect="non-scaling-stroke"/>
<polygon points="498.19,377.25 502.10,379.47 507.60,369.94 503.68,367.73" fill="#ebebeb" stroke="none" stroke-width="0.0" />
<line x1="498.19" y1="377.25" x2="502.10" y2="379.47" stroke="#3a3a3a" stroke-width="0.8" />
<line x1="503.68" y1="367.73" x2="507.60" y2="369.94" stroke="#3a3a3a" stroke-width="0.8" />
<ellipse cx="0" cy="0" rx="4.50" ry="4.50" transform="matrix(0.8704,-0.4924,0,1,504.85,374.71)" fill="#ebebeb" stroke="#333" stroke-width="1.0" vector-effect="non-scaling-stroke"/>
<ellipse cx="0" cy="0" rx="3.33" ry="3.33" transform="matrix(0.8704,-0.4924,0,1,504.85,374.71)" fill="#efefef" stroke="#444" stroke-width="0.9" vector-effect="non-scaling-stroke"/>
<ellipse cx="0" cy="0" rx="4.50" ry="4.50" transform="matrix(0.8704,-0.4924,0,1,493.32,376.80)" fill="#ebebeb" stroke="#3a3a3a" stroke-width="0.8" vector-effect="non-scaling-stroke"/>
<polygon points="490.57,381.56 494.49,383.78 499.99,374.25 496.07,372.04" fill="#ebebeb" stroke="none" stroke-width="0.0" />
<line x1="490.57" y1="381.56" x2="494.49" y2="383.78" stroke="#3a3a3a" stroke-width="0.8" />
<line x1="496.07" y1="372.04" x2="499.99" y2="374.25" stroke="#3a3a3a" stroke-width="0.8" />
<ellipse cx="0" cy="0" rx="4.50" ry="4.50" transform="matrix(0.8704,-0.4924,0,1,497.24,379.01)" fill="#ebebeb" stroke="#333" stroke-width="1.0" vector-effect="non-scaling-stroke"/>
<ellipse cx="0" cy="0" rx="3.33" ry="3.33" transform="matrix(0.8704,-0.4924,0,1,497.24,379.01)" fill="#efefef" stroke="#444" stroke-width="0.9" vector-effect="non-scaling-stroke"/>
<ellipse cx="0" cy="0" rx="4.50" ry="4.50" transform="matrix(0.8704,-0.4924,0,1,485.71,381.11)" fill="#ebebeb" stroke="#3a3a3a" stroke-width="0.8" vector-effect="non-scaling-stroke"/>
<polygon points="482.96,385.87 486.87,388.08 492.37,378.56 488.45,376.35" fill="#ebebeb" stroke="none" stroke-width="0.0" />
<line x1="482.96" y1="385.87" x2="486.87" y2="388.08" stroke="#3a3a3a" stroke-width="0.8" />
<line x1="488.45" y1="376.35" x2="492.37" y2="378.56" stroke="#3a3a3a" stroke-width="0.8" />
<ellipse cx="0" cy="0" rx="4.50" ry="4.50" transform="matrix(0.8704,-0.4924,0,1,489.62,383.32)" fill="#ebebeb" stroke="#333" stroke-width="1.0" vector-effect="non-scaling-stroke"/>
<ellipse cx="0" cy="0" rx="3.33" ry="3.33" transform="matrix(0.8704,-0.4924,0,1,489.62,383.32)" fill="#efefef" stroke="#444" stroke-width="0.9" vector-effect="non-scaling-stroke"/>
<ellipse cx="0" cy="0" rx="4.50" ry="4.50" transform="matrix(0.8704,-0.4924,0,1,478.09,385.42)" fill="#ebebeb" stroke="#3a3a3a" stroke-width="0.8" vector-effect="non-scaling-stroke"/>
<polygon points="475.34,390.18 479.26,392.39 484.75,382.87 480.84,380.65" fill="#ebebeb" stroke="none" stroke-width="0.0" />
<line x1="475.34" y1="390.18" x2="479.26" y2="392.39" stroke="#3a3a3a" stroke-width="0.8" />
<line x1="480.84" y1="380.65" x2="484.75" y2="382.87" stroke="#3a3a3a" stroke-width="0.8" />
<ellipse cx="0" cy="0" rx="4.50" ry="4.50" transform="matrix(0.8704,-0.4924,0,1,482.01,387.63)" fill="#ebebeb" stroke="#333" stroke-width="1.0" vector-effect="non-scaling-stroke"/>
<ellipse cx="0" cy="0" rx="3.33" ry="3.33" transform="matrix(0.8704,-0.4924,0,1,482.01,387.63)" fill="#efefef" stroke="#444" stroke-width="0.9" vector-effect="non-scaling-stroke"/>
<ellipse cx="0" cy="0" rx="4.50" ry="4.50" transform="matrix(0.8704,-0.4924,0,1,470.47,389.72)" fill="#ebebeb" stroke="#3a3a3a" stroke-width="0.8" vector-effect="non-scaling-stroke"/>
<polygon points="467.73,394.49 471.64,396.70 477.14,387.18 473.22,384.96" fill="#ebebeb" stroke="none" stroke-width="0.0" />
<line x1="467.73" y1="394.49" x2="471.64" y2="396.70" stroke="#3a3a3a" stroke-width="0.8" />
<line x1="473.22" y1="384.96" x2="477.14" y2="387.18" stroke="#3a3a3a" stroke-width="0.8" />
<ellipse cx="0" cy="0" rx="4.50" ry="4.50" transform="matrix(0.8704,-0.4924,0,1,474.39,391.94)" fill="#ebebeb" stroke="#333" stroke-width="1.0" vector-effect="non-scaling-stroke"/>
<ellipse cx="0" cy="0" rx="3.33" ry="3.33" transform="matrix(0.8704,-0.4924,0,1,474.39,391.94)" fill="#efefef" stroke="#444" stroke-width="0.9" vector-effect="non-scaling-stroke"/>
<ellipse cx="0" cy="0" rx="5.30" ry="5.30" transform="matrix(0.8704,-0.4924,0,1,462.86,394.03)" fill="#ebebeb" stroke="#3a3a3a" stroke-width="0.8" vector-effect="non-scaling-stroke"/>
<polygon points="459.62,399.64 463.54,401.86 470.01,390.64 466.10,388.43" fill="#ebebeb" stroke="none" stroke-width="0.0" />
<line x1="459.62" y1="399.64" x2="463.54" y2="401.86" stroke="#3a3a3a" stroke-width="0.8" />
<line x1="466.10" y1="388.43" x2="470.01" y2="390.64" stroke="#3a3a3a" stroke-width="0.8" />
<ellipse cx="0" cy="0" rx="5.30" ry="5.30" transform="matrix(0.8704,-0.4924,0,1,466.78,396.25)" fill="#ebebeb" stroke="#333" stroke-width="1.0" vector-effect="non-scaling-stroke"/>
<ellipse cx="0" cy="0" rx="3.92" ry="3.92" transform="matrix(0.8704,-0.4924,0,1,466.78,396.25)" fill="#efefef" stroke="#444" stroke-width="0.9" vector-effect="non-scaling-stroke"/>
<path d="M396.77,419.51 L432.00,396.50" fill="none" stroke="#484848" stroke-width="3.90" stroke-linejoin="round"/>
<path d="M396.77,419.51 L432.00,396.50" fill="none" stroke="#858585" stroke-width="2.50" stroke-linejoin="round"/>
<polyline points="404.61,415.08 416.36,421.73 408.52,426.16" fill="none" stroke="#4a4a4a" stroke-width="1.9" />
<polyline points="404.61,415.08 416.36,421.73 408.52,426.16" fill="none" stroke="#a8a8a8" stroke-width="0.7" />
<polygon points="384.50,424.90 389.90,427.95 389.90,424.95 384.50,421.90" fill="#f2f2f2" stroke="#3a3a3a" stroke-width="0.75" />
<polygon points="389.90,427.95 399.47,422.54 399.47,419.54 389.90,424.95" fill="#f2f2f2" stroke="#3a3a3a" stroke-width="0.75" />
<polygon points="384.50,421.90 394.07,416.48 399.47,419.54 389.90,424.95" fill="#f2f2f2" stroke="#3a3a3a" stroke-width="0.75" />
<polygon points="387.98,421.90 394.07,418.45 395.99,419.54 389.90,422.98" fill="#2e2e2e" stroke="#2e2e2e" stroke-width="0.9" stroke-linejoin="round"/>
<line x1="389.64" y1="422.05" x2="394.34" y2="419.39" stroke="#bbb" stroke-width="0.5" />
<polygon points="396.25,431.55 401.65,434.60 401.65,431.60 396.25,428.55" fill="#f2f2f2" stroke="#3a3a3a" stroke-width="0.75" />
<polygon points="401.65,434.60 411.22,429.18 411.22,426.18 401.65,431.60" fill="#f2f2f2" stroke="#3a3a3a" stroke-width="0.75" />
<polygon points="396.25,428.55 405.82,423.13 411.22,426.18 401.65,431.60" fill="#f2f2f2" stroke="#3a3a3a" stroke-width="0.75" />
<polygon points="399.73,428.55 405.82,425.10 407.74,426.18 401.65,429.63" fill="#2e2e2e" stroke="#2e2e2e" stroke-width="0.9" stroke-linejoin="round"/>
<line x1="401.38" y1="428.70" x2="406.08" y2="426.04" stroke="#bbb" stroke-width="0.5" />
<line x1="674.00" y1="206.00" x2="690.00" y2="197.00" stroke="#555" stroke-width="0.6" />
<line x1="713.00" y1="228.00" x2="732.00" y2="218.00" stroke="#555" stroke-width="0.6" />
<line x1="692.00" y1="195.00" x2="728.50" y2="214.90" stroke="#444" stroke-width="0.65" />
<polygon points="728.50,214.90 723.34,213.91 724.88,211.10" fill="#333"/>
<polygon points="692.00,195.00 697.16,195.99 695.62,198.80" fill="#333"/>
<line x1="714.00" y1="229.00" x2="737.00" y2="214.50" stroke="#555" stroke-width="0.6" />
<line x1="714.00" y1="252.00" x2="737.00" y2="256.00" stroke="#555" stroke-width="0.6" />
<line x1="730.00" y1="202.70" x2="730.00" y2="256.00" stroke="#444" stroke-width="0.65" />
<polygon points="730.00,214.90 728.40,209.90 731.60,209.90" fill="#333"/>
<polygon points="730.00,246.90 731.60,251.90 728.40,251.90" fill="#333"/>
<line x1="564.00" y1="338.00" x2="577.00" y2="346.00" stroke="#555" stroke-width="0.6" />
<line x1="713.00" y1="252.00" x2="738.00" y2="265.00" stroke="#555" stroke-width="0.6" />
<line x1="576.00" y1="345.00" x2="735.00" y2="262.00" stroke="#444" stroke-width="0.65" />
<polygon points="735.00,262.00 731.31,265.73 729.83,262.90" fill="#333"/>
<polygon points="576.00,345.00 579.69,341.27 581.17,344.10" fill="#333"/>
<polygon points="995.80,229.70 1028.00,247.92 1028.00,231.92 995.80,213.70" fill="#ebebeb" stroke="#3a3a3a" stroke-width="0.9" />
<polygon points="1028.00,247.92 1095.89,209.51 1095.89,193.51 1028.00,231.92" fill="#ebebeb" stroke="#3a3a3a" stroke-width="0.9" />
<polygon points="995.80,213.70 1063.69,175.29 1095.89,193.51 1028.00,231.92" fill="#ebebeb" stroke="#3a3a3a" stroke-width="0.9" />
<line x1="995.80" y1="221.70" x2="1028.00" y2="239.92" stroke="#3a3a3a" stroke-width="0.7" />
<line x1="1028.00" y1="234.92" x2="1095.89" y2="196.51" stroke="#3a3a3a" stroke-width="0.6" />
<polygon points="981.87,237.58 995.80,245.46 995.80,229.46 981.87,221.58" fill="#ebebeb" stroke="#3a3a3a" stroke-width="0.9" />
<polygon points="995.80,245.46 1009.73,237.58 1009.73,221.58 995.80,229.46" fill="#ebebeb" stroke="#3a3a3a" stroke-width="0.9" />
<polygon points="981.87,221.58 995.80,213.70 1009.73,221.58 995.80,229.46" fill="#ebebeb" stroke="#3a3a3a" stroke-width="0.9" />
<line x1="981.87" y1="229.58" x2="995.80" y2="237.46" stroke="#3a3a3a" stroke-width="0.7" />
<line x1="995.80" y1="237.46" x2="1009.73" y2="229.58" stroke="#3a3a3a" stroke-width="0.7" />
<ellipse cx="0" cy="0" rx="4.00" ry="4.00" transform="matrix(0.8704,0.4924,0,1,988.84,233.52)" fill="#e8e8e8" stroke="#3a3a3a" stroke-width="0.8" vector-effect="non-scaling-stroke"/>
<polygon points="1016.69,213.70 1063.69,187.11 1074.13,193.02 1027.13,219.61" fill="#e2e2e2" stroke="none" stroke-width="0" />
<line x1="1016.95" y1="213.85" x2="1063.95" y2="187.26" stroke="#3a3a3a" stroke-width="0.95" />
<line x1="1018.93" y1="214.97" x2="1065.93" y2="188.38" stroke="#3a3a3a" stroke-width="0.95" />
<line x1="1020.92" y1="216.09" x2="1067.92" y2="189.50" stroke="#3a3a3a" stroke-width="0.95" />
<line x1="1022.90" y1="217.22" x2="1069.90" y2="190.63" stroke="#3a3a3a" stroke-width="0.95" />
<line x1="1024.89" y1="218.34" x2="1071.89" y2="191.75" stroke="#3a3a3a" stroke-width="0.95" />
<line x1="1026.87" y1="219.46" x2="1073.87" y2="192.87" stroke="#3a3a3a" stroke-width="0.95" />
<line x1="1016.69" y1="213.70" x2="1027.13" y2="219.61" stroke="#555" stroke-width="0.6" />
<line x1="1063.69" y1="187.11" x2="1074.13" y2="193.02" stroke="#555" stroke-width="0.6" />
<polygon points="1013.64,203.61 1015.12,203.75 1016.51,202.97 1016.25,202.13" fill="#fafafa" stroke="#3a3a3a" stroke-width="0.7" />
<polygon points="1036.27,190.80 1037.75,190.95 1039.14,190.16 1038.88,189.33" fill="#fafafa" stroke="#3a3a3a" stroke-width="0.7" />
<polygon points="1064.56,175.78 1064.21,176.77 1067.87,178.84 1069.61,178.64" fill="#fafafa" stroke="#3a3a3a" stroke-width="0.7" />
<ellipse cx="0" cy="0" rx="2.80" ry="1.30" transform="matrix(0.8704,-0.4924,0.8704,0.4924,1087.19,192.53)" fill="#c8c8c8" stroke="#444" stroke-width="0.7" vector-effect="non-scaling-stroke"/>
<ellipse cx="0" cy="0" rx="4.50" ry="4.50" transform="matrix(0.8704,-0.4924,0,1,1086.75,207.88)" fill="#ebebeb" stroke="#3a3a3a" stroke-width="0.8" vector-effect="non-scaling-stroke"/>
<polygon points="1084.00,212.64 1087.92,214.86 1093.42,205.34 1089.50,203.12" fill="#ebebeb" stroke="none" stroke-width="0.0" />
<line x1="1084.00" y1="212.64" x2="1087.92" y2="214.86" stroke="#3a3a3a" stroke-width="0.8" />
<line x1="1089.50" y1="203.12" x2="1093.42" y2="205.34" stroke="#3a3a3a" stroke-width="0.8" />
<ellipse cx="0" cy="0" rx="4.50" ry="4.50" transform="matrix(0.8704,-0.4924,0,1,1090.67,210.10)" fill="#ebebeb" stroke="#333" stroke-width="1.0" vector-effect="non-scaling-stroke"/>
<ellipse cx="0" cy="0" rx="3.33" ry="3.33" transform="matrix(0.8704,-0.4924,0,1,1090.67,210.10)" fill="#efefef" stroke="#444" stroke-width="0.9" vector-effect="non-scaling-stroke"/>
<ellipse cx="0" cy="0" rx="4.50" ry="4.50" transform="matrix(0.8704,-0.4924,0,1,1079.14,212.19)" fill="#ebebeb" stroke="#3a3a3a" stroke-width="0.8" vector-effect="non-scaling-stroke"/>
<polygon points="1076.39,216.95 1080.30,219.17 1085.80,209.64 1081.88,207.43" fill="#ebebeb" stroke="none" stroke-width="0.0" />
<line x1="1076.39" y1="216.95" x2="1080.30" y2="219.17" stroke="#3a3a3a" stroke-width="0.8" />
<line x1="1081.88" y1="207.43" x2="1085.80" y2="209.64" stroke="#3a3a3a" stroke-width="0.8" />
<ellipse cx="0" cy="0" rx="4.50" ry="4.50" transform="matrix(0.8704,-0.4924,0,1,1083.05,214.41)" fill="#ebebeb" stroke="#333" stroke-width="1.0" vector-effect="non-scaling-stroke"/>
<ellipse cx="0" cy="0" rx="3.33" ry="3.33" transform="matrix(0.8704,-0.4924,0,1,1083.05,214.41)" fill="#efefef" stroke="#444" stroke-width="0.9" vector-effect="non-scaling-stroke"/>
<ellipse cx="0" cy="0" rx="4.50" ry="4.50" transform="matrix(0.8704,-0.4924,0,1,1071.52,216.50)" fill="#ebebeb" stroke="#3a3a3a" stroke-width="0.8" vector-effect="non-scaling-stroke"/>
<polygon points="1068.77,221.26 1072.69,223.48 1078.19,213.95 1074.27,211.74" fill="#ebebeb" stroke="none" stroke-width="0.0" />
<line x1="1068.77" y1="221.26" x2="1072.69" y2="223.48" stroke="#3a3a3a" stroke-width="0.8" />
<line x1="1074.27" y1="211.74" x2="1078.19" y2="213.95" stroke="#3a3a3a" stroke-width="0.8" />
<ellipse cx="0" cy="0" rx="4.50" ry="4.50" transform="matrix(0.8704,-0.4924,0,1,1075.44,218.71)" fill="#ebebeb" stroke="#333" stroke-width="1.0" vector-effect="non-scaling-stroke"/>
<ellipse cx="0" cy="0" rx="3.33" ry="3.33" transform="matrix(0.8704,-0.4924,0,1,1075.44,218.71)" fill="#efefef" stroke="#444" stroke-width="0.9" vector-effect="non-scaling-stroke"/>
<ellipse cx="0" cy="0" rx="4.50" ry="4.50" transform="matrix(0.8704,-0.4924,0,1,1063.91,220.81)" fill="#ebebeb" stroke="#3a3a3a" stroke-width="0.8" vector-effect="non-scaling-stroke"/>
<polygon points="1061.16,225.57 1065.07,227.78 1070.57,218.26 1066.65,216.05" fill="#ebebeb" stroke="none" stroke-width="0.0" />
<line x1="1061.16" y1="225.57" x2="1065.07" y2="227.78" stroke="#3a3a3a" stroke-width="0.8" />
<line x1="1066.65" y1="216.05" x2="1070.57" y2="218.26" stroke="#3a3a3a" stroke-width="0.8" />
<ellipse cx="0" cy="0" rx="4.50" ry="4.50" transform="matrix(0.8704,-0.4924,0,1,1067.82,223.02)" fill="#ebebeb" stroke="#333" stroke-width="1.0" vector-effect="non-scaling-stroke"/>
<ellipse cx="0" cy="0" rx="3.33" ry="3.33" transform="matrix(0.8704,-0.4924,0,1,1067.82,223.02)" fill="#efefef" stroke="#444" stroke-width="0.9" vector-effect="non-scaling-stroke"/>
<ellipse cx="0" cy="0" rx="4.50" ry="4.50" transform="matrix(0.8704,-0.4924,0,1,1056.29,225.12)" fill="#ebebeb" stroke="#3a3a3a" stroke-width="0.8" vector-effect="non-scaling-stroke"/>
<polygon points="1053.54,229.88 1057.46,232.09 1062.95,222.57 1059.04,220.35" fill="#ebebeb" stroke="none" stroke-width="0.0" />
<line x1="1053.54" y1="229.88" x2="1057.46" y2="232.09" stroke="#3a3a3a" stroke-width="0.8" />
<line x1="1059.04" y1="220.35" x2="1062.95" y2="222.57" stroke="#3a3a3a" stroke-width="0.8" />
<ellipse cx="0" cy="0" rx="4.50" ry="4.50" transform="matrix(0.8704,-0.4924,0,1,1060.21,227.33)" fill="#ebebeb" stroke="#333" stroke-width="1.0" vector-effect="non-scaling-stroke"/>
<ellipse cx="0" cy="0" rx="3.33" ry="3.33" transform="matrix(0.8704,-0.4924,0,1,1060.21,227.33)" fill="#efefef" stroke="#444" stroke-width="0.9" vector-effect="non-scaling-stroke"/>
<ellipse cx="0" cy="0" rx="4.50" ry="4.50" transform="matrix(0.8704,-0.4924,0,1,1048.67,229.42)" fill="#ebebeb" stroke="#3a3a3a" stroke-width="0.8" vector-effect="non-scaling-stroke"/>
<polygon points="1045.93,234.19 1049.84,236.40 1055.34,226.88 1051.42,224.66" fill="#ebebeb" stroke="none" stroke-width="0.0" />
<line x1="1045.93" y1="234.19" x2="1049.84" y2="236.40" stroke="#3a3a3a" stroke-width="0.8" />
<line x1="1051.42" y1="224.66" x2="1055.34" y2="226.88" stroke="#3a3a3a" stroke-width="0.8" />
<ellipse cx="0" cy="0" rx="4.50" ry="4.50" transform="matrix(0.8704,-0.4924,0,1,1052.59,231.64)" fill="#ebebeb" stroke="#333" stroke-width="1.0" vector-effect="non-scaling-stroke"/>
<ellipse cx="0" cy="0" rx="3.33" ry="3.33" transform="matrix(0.8704,-0.4924,0,1,1052.59,231.64)" fill="#efefef" stroke="#444" stroke-width="0.9" vector-effect="non-scaling-stroke"/>
<ellipse cx="0" cy="0" rx="5.30" ry="5.30" transform="matrix(0.8704,-0.4924,0,1,1041.06,233.73)" fill="#ebebeb" stroke="#3a3a3a" stroke-width="0.8" vector-effect="non-scaling-stroke"/>
<polygon points="1037.82,239.34 1041.74,241.56 1048.21,230.34 1044.30,228.13" fill="#ebebeb" stroke="none" stroke-width="0.0" />
<line x1="1037.82" y1="239.34" x2="1041.74" y2="241.56" stroke="#3a3a3a" stroke-width="0.8" />
<line x1="1044.30" y1="228.13" x2="1048.21" y2="230.34" stroke="#3a3a3a" stroke-width="0.8" />
<ellipse cx="0" cy="0" rx="5.30" ry="5.30" transform="matrix(0.8704,-0.4924,0,1,1044.98,235.95)" fill="#ebebeb" stroke="#333" stroke-width="1.0" vector-effect="non-scaling-stroke"/>
<ellipse cx="0" cy="0" rx="3.92" ry="3.92" transform="matrix(0.8704,-0.4924,0,1,1044.98,235.95)" fill="#efefef" stroke="#444" stroke-width="0.9" vector-effect="non-scaling-stroke"/>
<path d="M945.32,258.14 L990.14,232.78" fill="none" stroke="#3a3a3a" stroke-width="5.00" stroke-linejoin="round" stroke-linecap="butt"/>
<path d="M945.32,258.14 L990.14,232.78" fill="none" stroke="#f6f6f6" stroke-width="3.40" stroke-linejoin="round" stroke-linecap="butt"/>
<line x1="946.10" y1="258.58" x2="990.49" y2="233.47" stroke="#999" stroke-width="0.5" />
<polygon points="787.50,333.00 822.75,352.94 822.75,335.94 787.50,316.00" fill="#ebebeb" stroke="#3a3a3a" stroke-width="0.9" />
<polygon points="822.75,352.94 958.52,276.13 958.52,259.13 822.75,335.94" fill="#ebebeb" stroke="#3a3a3a" stroke-width="0.9" />
<polygon points="787.50,316.00 923.28,239.18 958.52,259.13 822.75,335.94" fill="#ebebeb" stroke="#3a3a3a" stroke-width="0.9" />
<line x1="810.39" y1="303.05" x2="845.64" y2="322.99" stroke="#3a3a3a" stroke-width="0.8" />
<line x1="899.34" y1="252.72" x2="934.59" y2="272.67" stroke="#3a3a3a" stroke-width="0.8" />
<ellipse cx="0" cy="0" rx="3.00" ry="3.00" transform="matrix(0.8704,-0.4924,0.8704,0.4924,813.09,322.40)" fill="#6a6a6a" stroke="#333" stroke-width="0.8" vector-effect="non-scaling-stroke"/>
<ellipse cx="0" cy="0" rx="1.50" ry="1.50" transform="matrix(0.8704,-0.4924,0.8704,0.4924,813.09,322.40)" fill="#d8d8d8" stroke="#444" stroke-width="0.5" vector-effect="non-scaling-stroke"/>
<ellipse cx="0" cy="0" rx="3.00" ry="3.00" transform="matrix(0.8704,-0.4924,0.8704,0.4924,929.80,255.78)" fill="#6a6a6a" stroke="#333" stroke-width="0.8" vector-effect="non-scaling-stroke"/>
<ellipse cx="0" cy="0" rx="1.50" ry="1.50" transform="matrix(0.8704,-0.4924,0.8704,0.4924,929.80,255.78)" fill="#d8d8d8" stroke="#444" stroke-width="0.5" vector-effect="non-scaling-stroke"/>
<path d="M937.20,247.06 Q934.15,252.72 944.16,251.00 Z" fill="#fafafa" stroke="#3a3a3a" stroke-width="0.8"/>
<line x1="937.20" y1="247.06" x2="944.16" y2="251.00" stroke="#fafafa" stroke-width="1.2" />
<polygon points="788.81,318.24 803.60,326.61 803.60,340.91 788.81,332.54" fill="#f0f0f0" stroke="#3a3a3a" stroke-width="0.7" />
<polygon points="808.82,329.56 821.44,336.70 821.44,351.00 808.82,343.86" fill="#f0f0f0" stroke="#3a3a3a" stroke-width="0.7" />
<path d="M804.47,325.60 Q809.26,324.86 807.95,327.57" fill="#fafafa" stroke="#3a3a3a" stroke-width="0.8"/>
<polygon points="804.47,325.60 807.95,327.57 807.95,342.57 804.47,340.60" fill="#fafafa" stroke="#3a3a3a" stroke-width="0.8" />
<line x1="805.34" y1="327.09" x2="805.34" y2="340.09" stroke="#888" stroke-width="0.6" />
<polygon points="791.85,327.46 796.20,329.92 796.20,332.92 791.85,330.46" fill="#555" stroke="#3a3a3a" stroke-width="0.6" />
<polygon points="812.74,342.28 817.96,345.23 817.96,347.73 812.74,344.78" fill="#555" stroke="#3a3a3a" stroke-width="0.6" />
<path d="M692.77,390.01 L794.03,330.19" fill="none" stroke="#484848" stroke-width="3.90" stroke-linejoin="round"/>
<path d="M692.77,390.01 L794.03,330.19" fill="none" stroke="#858585" stroke-width="2.50" stroke-linejoin="round"/>
<polyline points="700.61,385.58 712.36,392.23 704.52,396.66" fill="none" stroke="#4a4a4a" stroke-width="1.9" />
<polyline points="700.61,385.58 712.36,392.23 704.52,396.66" fill="none" stroke="#a8a8a8" stroke-width="0.7" />
<polygon points="680.50,395.40 685.90,398.45 685.90,395.45 680.50,392.40" fill="#f2f2f2" stroke="#3a3a3a" stroke-width="0.75" />
<polygon points="685.90,398.45 695.47,393.04 695.47,390.04 685.90,395.45" fill="#f2f2f2" stroke="#3a3a3a" stroke-width="0.75" />
<polygon points="680.50,392.40 690.07,386.98 695.47,390.04 685.90,395.45" fill="#f2f2f2" stroke="#3a3a3a" stroke-width="0.75" />
<polygon points="683.98,392.40 690.07,388.95 691.99,390.04 685.90,393.48" fill="#2e2e2e" stroke="#2e2e2e" stroke-width="0.9" stroke-linejoin="round"/>
<line x1="685.64" y1="392.55" x2="690.34" y2="389.89" stroke="#bbb" stroke-width="0.5" />
<polygon points="692.25,402.05 697.65,405.10 697.65,402.10 692.25,399.05" fill="#f2f2f2" stroke="#3a3a3a" stroke-width="0.75" />
<polygon points="697.65,405.10 707.22,399.68 707.22,396.68 697.65,402.10" fill="#f2f2f2" stroke="#3a3a3a" stroke-width="0.75" />
<polygon points="692.25,399.05 701.82,393.63 707.22,396.68 697.65,402.10" fill="#f2f2f2" stroke="#3a3a3a" stroke-width="0.75" />
<polygon points="695.73,399.05 701.82,395.60 703.74,396.68 697.65,400.13" fill="#2e2e2e" stroke="#2e2e2e" stroke-width="0.9" stroke-linejoin="round"/>
<line x1="697.38" y1="399.20" x2="702.08" y2="396.54" stroke="#bbb" stroke-width="0.5" />
<line x1="822.00" y1="353.00" x2="840.00" y2="365.00" stroke="#555" stroke-width="0.6" />
<line x1="958.00" y1="276.00" x2="975.00" y2="286.00" stroke="#555" stroke-width="0.6" />
<line x1="840.30" y1="363.80" x2="972.30" y2="285.60" stroke="#444" stroke-width="0.65" />
<polygon points="972.30,285.60 968.81,289.53 967.18,286.77" fill="#333"/>
<polygon points="840.30,363.80 843.79,359.87 845.42,362.63" fill="#333"/>
<line x1="957.00" y1="259.00" x2="976.00" y2="251.00" stroke="#555" stroke-width="0.6" />
<line x1="958.00" y1="276.00" x2="976.00" y2="279.20" stroke="#555" stroke-width="0.6" />
<line x1="971.00" y1="246.00" x2="971.00" y2="284.00" stroke="#444" stroke-width="0.65" />
<polygon points="971.00,251.00 969.40,246.00 972.60,246.00" fill="#333"/>
<polygon points="971.00,279.20 972.60,284.20 969.40,284.20" fill="#333"/>
<line x1="922.00" y1="239.00" x2="938.00" y2="230.00" stroke="#555" stroke-width="0.6" />
<line x1="957.00" y1="259.00" x2="974.00" y2="249.00" stroke="#555" stroke-width="0.6" />
<line x1="936.40" y1="231.80" x2="969.70" y2="251.00" stroke="#444" stroke-width="0.65" />
<polygon points="969.70,251.00 964.57,249.89 966.17,247.12" fill="#333"/>
<polygon points="936.40,231.80 941.53,232.91 939.93,235.68" fill="#333"/>
<polygon points="1095.80,311.30 1128.00,329.52 1128.00,313.52 1095.80,295.30" fill="#ebebeb" stroke="#3a3a3a" stroke-width="0.9" />
<polygon points="1128.00,329.52 1195.89,291.11 1195.89,275.11 1128.00,313.52" fill="#ebebeb" stroke="#3a3a3a" stroke-width="0.9" />
<polygon points="1095.80,295.30 1163.69,256.89 1195.89,275.11 1128.00,313.52" fill="#ebebeb" stroke="#3a3a3a" stroke-width="0.9" />
<line x1="1095.80" y1="303.30" x2="1128.00" y2="321.52" stroke="#3a3a3a" stroke-width="0.7" />
<line x1="1128.00" y1="316.52" x2="1195.89" y2="278.11" stroke="#3a3a3a" stroke-width="0.6" />
<polygon points="1081.87,319.18 1095.80,327.06 1095.80,311.06 1081.87,303.18" fill="#ebebeb" stroke="#3a3a3a" stroke-width="0.9" />
<polygon points="1095.80,327.06 1109.73,319.18 1109.73,303.18 1095.80,311.06" fill="#ebebeb" stroke="#3a3a3a" stroke-width="0.9" />
<polygon points="1081.87,303.18 1095.80,295.30 1109.73,303.18 1095.80,311.06" fill="#ebebeb" stroke="#3a3a3a" stroke-width="0.9" />
<line x1="1081.87" y1="311.18" x2="1095.80" y2="319.06" stroke="#3a3a3a" stroke-width="0.7" />
<line x1="1095.80" y1="319.06" x2="1109.73" y2="311.18" stroke="#3a3a3a" stroke-width="0.7" />
<ellipse cx="0" cy="0" rx="4.00" ry="4.00" transform="matrix(0.8704,0.4924,0,1,1088.84,315.12)" fill="#e8e8e8" stroke="#3a3a3a" stroke-width="0.8" vector-effect="non-scaling-stroke"/>
<polygon points="1116.69,295.30 1163.69,268.71 1174.13,274.62 1127.13,301.21" fill="#e2e2e2" stroke="none" stroke-width="0" />
<line x1="1116.95" y1="295.45" x2="1163.95" y2="268.86" stroke="#3a3a3a" stroke-width="0.95" />
<line x1="1118.93" y1="296.57" x2="1165.93" y2="269.98" stroke="#3a3a3a" stroke-width="0.95" />
<line x1="1120.92" y1="297.69" x2="1167.92" y2="271.10" stroke="#3a3a3a" stroke-width="0.95" />
<line x1="1122.90" y1="298.82" x2="1169.90" y2="272.23" stroke="#3a3a3a" stroke-width="0.95" />
<line x1="1124.89" y1="299.94" x2="1171.89" y2="273.35" stroke="#3a3a3a" stroke-width="0.95" />
<line x1="1126.87" y1="301.06" x2="1173.87" y2="274.47" stroke="#3a3a3a" stroke-width="0.95" />
<line x1="1116.69" y1="295.30" x2="1127.13" y2="301.21" stroke="#555" stroke-width="0.6" />
<line x1="1163.69" y1="268.71" x2="1174.13" y2="274.62" stroke="#555" stroke-width="0.6" />
<polygon points="1113.64,285.21 1115.12,285.35 1116.51,284.57 1116.25,283.73" fill="#fafafa" stroke="#3a3a3a" stroke-width="0.7" />
<polygon points="1136.27,272.40 1137.75,272.55 1139.14,271.76 1138.88,270.93" fill="#fafafa" stroke="#3a3a3a" stroke-width="0.7" />
<polygon points="1164.56,257.38 1164.21,258.37 1167.87,260.44 1169.61,260.24" fill="#fafafa" stroke="#3a3a3a" stroke-width="0.7" />
<ellipse cx="0" cy="0" rx="2.80" ry="1.30" transform="matrix(0.8704,-0.4924,0.8704,0.4924,1187.19,274.13)" fill="#c8c8c8" stroke="#444" stroke-width="0.7" vector-effect="non-scaling-stroke"/>
<ellipse cx="0" cy="0" rx="4.50" ry="4.50" transform="matrix(0.8704,-0.4924,0,1,1186.75,289.48)" fill="#ebebeb" stroke="#3a3a3a" stroke-width="0.8" vector-effect="non-scaling-stroke"/>
<polygon points="1184.00,294.24 1187.92,296.46 1193.42,286.94 1189.50,284.72" fill="#ebebeb" stroke="none" stroke-width="0.0" />
<line x1="1184.00" y1="294.24" x2="1187.92" y2="296.46" stroke="#3a3a3a" stroke-width="0.8" />
<line x1="1189.50" y1="284.72" x2="1193.42" y2="286.94" stroke="#3a3a3a" stroke-width="0.8" />
<ellipse cx="0" cy="0" rx="4.50" ry="4.50" transform="matrix(0.8704,-0.4924,0,1,1190.67,291.70)" fill="#ebebeb" stroke="#333" stroke-width="1.0" vector-effect="non-scaling-stroke"/>
<ellipse cx="0" cy="0" rx="3.33" ry="3.33" transform="matrix(0.8704,-0.4924,0,1,1190.67,291.70)" fill="#efefef" stroke="#444" stroke-width="0.9" vector-effect="non-scaling-stroke"/>
<ellipse cx="0" cy="0" rx="4.50" ry="4.50" transform="matrix(0.8704,-0.4924,0,1,1179.14,293.79)" fill="#ebebeb" stroke="#3a3a3a" stroke-width="0.8" vector-effect="non-scaling-stroke"/>
<polygon points="1176.39,298.55 1180.30,300.77 1185.80,291.24 1181.88,289.03" fill="#ebebeb" stroke="none" stroke-width="0.0" />
<line x1="1176.39" y1="298.55" x2="1180.30" y2="300.77" stroke="#3a3a3a" stroke-width="0.8" />
<line x1="1181.88" y1="289.03" x2="1185.80" y2="291.24" stroke="#3a3a3a" stroke-width="0.8" />
<ellipse cx="0" cy="0" rx="4.50" ry="4.50" transform="matrix(0.8704,-0.4924,0,1,1183.05,296.01)" fill="#ebebeb" stroke="#333" stroke-width="1.0" vector-effect="non-scaling-stroke"/>
<ellipse cx="0" cy="0" rx="3.33" ry="3.33" transform="matrix(0.8704,-0.4924,0,1,1183.05,296.01)" fill="#efefef" stroke="#444" stroke-width="0.9" vector-effect="non-scaling-stroke"/>
<ellipse cx="0" cy="0" rx="4.50" ry="4.50" transform="matrix(0.8704,-0.4924,0,1,1171.52,298.10)" fill="#ebebeb" stroke="#3a3a3a" stroke-width="0.8" vector-effect="non-scaling-stroke"/>
<polygon points="1168.77,302.86 1172.69,305.08 1178.19,295.55 1174.27,293.34" fill="#ebebeb" stroke="none" stroke-width="0.0" />
<line x1="1168.77" y1="302.86" x2="1172.69" y2="305.08" stroke="#3a3a3a" stroke-width="0.8" />
<line x1="1174.27" y1="293.34" x2="1178.19" y2="295.55" stroke="#3a3a3a" stroke-width="0.8" />
<ellipse cx="0" cy="0" rx="4.50" ry="4.50" transform="matrix(0.8704,-0.4924,0,1,1175.44,300.31)" fill="#ebebeb" stroke="#333" stroke-width="1.0" vector-effect="non-scaling-stroke"/>
<ellipse cx="0" cy="0" rx="3.33" ry="3.33" transform="matrix(0.8704,-0.4924,0,1,1175.44,300.31)" fill="#efefef" stroke="#444" stroke-width="0.9" vector-effect="non-scaling-stroke"/>
<ellipse cx="0" cy="0" rx="4.50" ry="4.50" transform="matrix(0.8704,-0.4924,0,1,1163.91,302.41)" fill="#ebebeb" stroke="#3a3a3a" stroke-width="0.8" vector-effect="non-scaling-stroke"/>
<polygon points="1161.16,307.17 1165.07,309.38 1170.57,299.86 1166.65,297.65" fill="#ebebeb" stroke="none" stroke-width="0.0" />
<line x1="1161.16" y1="307.17" x2="1165.07" y2="309.38" stroke="#3a3a3a" stroke-width="0.8" />
<line x1="1166.65" y1="297.65" x2="1170.57" y2="299.86" stroke="#3a3a3a" stroke-width="0.8" />
<ellipse cx="0" cy="0" rx="4.50" ry="4.50" transform="matrix(0.8704,-0.4924,0,1,1167.82,304.62)" fill="#ebebeb" stroke="#333" stroke-width="1.0" vector-effect="non-scaling-stroke"/>
<ellipse cx="0" cy="0" rx="3.33" ry="3.33" transform="matrix(0.8704,-0.4924,0,1,1167.82,304.62)" fill="#efefef" stroke="#444" stroke-width="0.9" vector-effect="non-scaling-stroke"/>
<ellipse cx="0" cy="0" rx="4.50" ry="4.50" transform="matrix(0.8704,-0.4924,0,1,1156.29,306.72)" fill="#ebebeb" stroke="#3a3a3a" stroke-width="0.8" vector-effect="non-scaling-stroke"/>
<polygon points="1153.54,311.48 1157.46,313.69 1162.95,304.17 1159.04,301.95" fill="#ebebeb" stroke="none" stroke-width="0.0" />
<line x1="1153.54" y1="311.48" x2="1157.46" y2="313.69" stroke="#3a3a3a" stroke-width="0.8" />
<line x1="1159.04" y1="301.95" x2="1162.95" y2="304.17" stroke="#3a3a3a" stroke-width="0.8" />
<ellipse cx="0" cy="0" rx="4.50" ry="4.50" transform="matrix(0.8704,-0.4924,0,1,1160.21,308.93)" fill="#ebebeb" stroke="#333" stroke-width="1.0" vector-effect="non-scaling-stroke"/>
<ellipse cx="0" cy="0" rx="3.33" ry="3.33" transform="matrix(0.8704,-0.4924,0,1,1160.21,308.93)" fill="#efefef" stroke="#444" stroke-width="0.9" vector-effect="non-scaling-stroke"/>
<ellipse cx="0" cy="0" rx="4.50" ry="4.50" transform="matrix(0.8704,-0.4924,0,1,1148.67,311.02)" fill="#ebebeb" stroke="#3a3a3a" stroke-width="0.8" vector-effect="non-scaling-stroke"/>
<polygon points="1145.93,315.79 1149.84,318.00 1155.34,308.48 1151.42,306.26" fill="#ebebeb" stroke="none" stroke-width="0.0" />
<line x1="1145.93" y1="315.79" x2="1149.84" y2="318.00" stroke="#3a3a3a" stroke-width="0.8" />
<line x1="1151.42" y1="306.26" x2="1155.34" y2="308.48" stroke="#3a3a3a" stroke-width="0.8" />
<ellipse cx="0" cy="0" rx="4.50" ry="4.50" transform="matrix(0.8704,-0.4924,0,1,1152.59,313.24)" fill="#ebebeb" stroke="#333" stroke-width="1.0" vector-effect="non-scaling-stroke"/>
<ellipse cx="0" cy="0" rx="3.33" ry="3.33" transform="matrix(0.8704,-0.4924,0,1,1152.59,313.24)" fill="#efefef" stroke="#444" stroke-width="0.9" vector-effect="non-scaling-stroke"/>
<ellipse cx="0" cy="0" rx="5.30" ry="5.30" transform="matrix(0.8704,-0.4924,0,1,1141.06,315.33)" fill="#ebebeb" stroke="#3a3a3a" stroke-width="0.8" vector-effect="non-scaling-stroke"/>
<polygon points="1137.82,320.94 1141.74,323.16 1148.21,311.94 1144.30,309.73" fill="#ebebeb" stroke="none" stroke-width="0.0" />
<line x1="1137.82" y1="320.94" x2="1141.74" y2="323.16" stroke="#3a3a3a" stroke-width="0.8" />
<line x1="1144.30" y1="309.73" x2="1148.21" y2="311.94" stroke="#3a3a3a" stroke-width="0.8" />
<ellipse cx="0" cy="0" rx="5.30" ry="5.30" transform="matrix(0.8704,-0.4924,0,1,1144.98,317.55)" fill="#ebebeb" stroke="#333" stroke-width="1.0" vector-effect="non-scaling-stroke"/>
<ellipse cx="0" cy="0" rx="3.92" ry="3.92" transform="matrix(0.8704,-0.4924,0,1,1144.98,317.55)" fill="#efefef" stroke="#444" stroke-width="0.9" vector-effect="non-scaling-stroke"/>
<path d="M1043.58,340.72 L1090.14,314.38" fill="none" stroke="#3a3a3a" stroke-width="5.00" stroke-linejoin="round" stroke-linecap="butt"/>
<path d="M1043.58,340.72 L1090.14,314.38" fill="none" stroke="#f6f6f6" stroke-width="3.40" stroke-linejoin="round" stroke-linecap="butt"/>
<line x1="1044.36" y1="341.17" x2="1090.49" y2="315.07" stroke="#999" stroke-width="0.5" />
<polygon points="985.00,377.00 993.00,381.50 996.00,386.00 988.00,382.00" fill="#eee" stroke="#3a3a3a" stroke-width="0.7" />
<polygon points="980.70,374.00 1010.29,390.74 1010.29,378.44 980.70,361.70" fill="#ebebeb" stroke="#3a3a3a" stroke-width="0.9" />
<polygon points="1010.29,390.74 1065.99,359.23 1065.99,346.93 1010.29,378.44" fill="#ebebeb" stroke="#3a3a3a" stroke-width="0.9" />
<polygon points="980.70,361.70 1036.40,330.18 1065.99,346.93 1010.29,378.44" fill="#ebebeb" stroke="#3a3a3a" stroke-width="0.9" />
<line x1="980.70" y1="368.00" x2="1010.29" y2="384.74" stroke="#3a3a3a" stroke-width="0.7" />
<line x1="1010.29" y1="384.74" x2="1065.99" y2="353.23" stroke="#3a3a3a" stroke-width="0.7" />
<ellipse cx="0" cy="0" rx="2.70" ry="2.70" transform="matrix(0.8704,-0.4924,0.8704,0.4924,1034.66,335.11)" fill="#6a6a6a" stroke="#333" stroke-width="0.8" vector-effect="non-scaling-stroke"/>
<ellipse cx="0" cy="0" rx="1.35" ry="1.35" transform="matrix(0.8704,-0.4924,0.8704,0.4924,1034.66,335.11)" fill="#d8d8d8" stroke="#444" stroke-width="0.5" vector-effect="non-scaling-stroke"/>
<ellipse cx="0" cy="0" rx="2.70" ry="2.70" transform="matrix(0.8704,-0.4924,0.8704,0.4924,1041.19,338.80)" fill="#6a6a6a" stroke="#333" stroke-width="0.8" vector-effect="non-scaling-stroke"/>
<ellipse cx="0" cy="0" rx="1.35" ry="1.35" transform="matrix(0.8704,-0.4924,0.8704,0.4924,1041.19,338.80)" fill="#d8d8d8" stroke="#444" stroke-width="0.5" vector-effect="non-scaling-stroke"/>
<ellipse cx="0" cy="0" rx="2.70" ry="2.70" transform="matrix(0.8704,-0.4924,0.8704,0.4924,1047.72,342.50)" fill="#6a6a6a" stroke="#333" stroke-width="0.8" vector-effect="non-scaling-stroke"/>
<ellipse cx="0" cy="0" rx="1.35" ry="1.35" transform="matrix(0.8704,-0.4924,0.8704,0.4924,1047.72,342.50)" fill="#d8d8d8" stroke="#444" stroke-width="0.5" vector-effect="non-scaling-stroke"/>
<ellipse cx="0" cy="0" rx="2.70" ry="2.70" transform="matrix(0.8704,-0.4924,0.8704,0.4924,1054.25,346.19)" fill="#6a6a6a" stroke="#333" stroke-width="0.8" vector-effect="non-scaling-stroke"/>
<ellipse cx="0" cy="0" rx="1.35" ry="1.35" transform="matrix(0.8704,-0.4924,0.8704,0.4924,1054.25,346.19)" fill="#d8d8d8" stroke="#444" stroke-width="0.5" vector-effect="non-scaling-stroke"/>
<ellipse cx="0" cy="0" rx="2.70" ry="2.70" transform="matrix(0.8704,-0.4924,0.8704,0.4924,989.84,362.73)" fill="#6a6a6a" stroke="#333" stroke-width="0.8" vector-effect="non-scaling-stroke"/>
<ellipse cx="0" cy="0" rx="1.35" ry="1.35" transform="matrix(0.8704,-0.4924,0.8704,0.4924,989.84,362.73)" fill="#d8d8d8" stroke="#444" stroke-width="0.5" vector-effect="non-scaling-stroke"/>
<ellipse cx="0" cy="0" rx="2.70" ry="2.70" transform="matrix(0.8704,-0.4924,0.8704,0.4924,996.54,366.53)" fill="#6a6a6a" stroke="#333" stroke-width="0.8" vector-effect="non-scaling-stroke"/>
<ellipse cx="0" cy="0" rx="1.35" ry="1.35" transform="matrix(0.8704,-0.4924,0.8704,0.4924,996.54,366.53)" fill="#d8d8d8" stroke="#444" stroke-width="0.5" vector-effect="non-scaling-stroke"/>
<path d="M926.87,409.51 L989.40,374.95" fill="none" stroke="#484848" stroke-width="3.90" stroke-linejoin="round"/>
<path d="M926.87,409.51 L989.40,374.95" fill="none" stroke="#858585" stroke-width="2.50" stroke-linejoin="round"/>
<polyline points="934.71,405.08 946.46,411.73 938.62,416.16" fill="none" stroke="#4a4a4a" stroke-width="1.9" />
<polyline points="934.71,405.08 946.46,411.73 938.62,416.16" fill="none" stroke="#a8a8a8" stroke-width="0.7" />
<polygon points="914.60,414.90 920.00,417.95 920.00,414.95 914.60,411.90" fill="#f2f2f2" stroke="#3a3a3a" stroke-width="0.75" />
<polygon points="920.00,417.95 929.57,412.54 929.57,409.54 920.00,414.95" fill="#f2f2f2" stroke="#3a3a3a" stroke-width="0.75" />
<polygon points="914.60,411.90 924.17,406.48 929.57,409.54 920.00,414.95" fill="#f2f2f2" stroke="#3a3a3a" stroke-width="0.75" />
<polygon points="918.08,411.90 924.17,408.45 926.09,409.54 920.00,412.98" fill="#2e2e2e" stroke="#2e2e2e" stroke-width="0.9" stroke-linejoin="round"/>
<line x1="919.74" y1="412.05" x2="924.44" y2="409.39" stroke="#bbb" stroke-width="0.5" />
<polygon points="926.35,421.55 931.75,424.60 931.75,421.60 926.35,418.55" fill="#f2f2f2" stroke="#3a3a3a" stroke-width="0.75" />
<polygon points="931.75,424.60 941.32,419.18 941.32,416.18 931.75,421.60" fill="#f2f2f2" stroke="#3a3a3a" stroke-width="0.75" />
<polygon points="926.35,418.55 935.92,413.13 941.32,416.18 931.75,421.60" fill="#f2f2f2" stroke="#3a3a3a" stroke-width="0.75" />
<polygon points="929.83,418.55 935.92,415.10 937.84,416.18 931.75,419.63" fill="#2e2e2e" stroke="#2e2e2e" stroke-width="0.9" stroke-linejoin="round"/>
<line x1="931.48" y1="418.70" x2="936.18" y2="416.04" stroke="#bbb" stroke-width="0.5" />
<line x1="1011.00" y1="391.00" x2="1019.00" y2="398.00" stroke="#555" stroke-width="0.6" />
<line x1="1067.00" y1="360.00" x2="1074.00" y2="366.50" stroke="#555" stroke-width="0.6" />
<line x1="1018.90" y1="397.60" x2="1073.80" y2="366.20" stroke="#444" stroke-width="0.65" />
<polygon points="1073.80,366.20 1070.25,370.07 1068.67,367.29" fill="#333"/>
<polygon points="1018.90,397.60 1022.45,393.73 1024.03,396.51" fill="#333"/>
<line x1="1009.00" y1="392.00" x2="1029.00" y2="409.00" stroke="#555" stroke-width="0.6" />
<line x1="1067.00" y1="360.00" x2="1095.00" y2="371.00" stroke="#555" stroke-width="0.6" />
<line x1="1029.00" y1="408.80" x2="1095.00" y2="370.60" stroke="#444" stroke-width="0.65" />
<polygon points="1095.00,370.60 1091.47,374.49 1089.87,371.72" fill="#333"/>
<polygon points="1029.00,408.80 1032.53,404.91 1034.13,407.68" fill="#333"/>
<line x1="1073.00" y1="344.00" x2="1099.00" y2="356.00" stroke="#555" stroke-width="0.6" />
<line x1="1071.40" y1="356.40" x2="1099.00" y2="370.00" stroke="#555" stroke-width="0.6" />
<line x1="1097.40" y1="352.00" x2="1097.40" y2="373.00" stroke="#444" stroke-width="0.65" />
<line x1="1036.00" y1="331.00" x2="1052.00" y2="320.00" stroke="#555" stroke-width="0.6" />
<line x1="1066.00" y1="347.00" x2="1080.00" y2="335.00" stroke="#555" stroke-width="0.6" />
<line x1="1050.00" y1="321.30" x2="1077.00" y2="335.90" stroke="#444" stroke-width="0.65" />
<polygon points="1077.00,335.90 1071.84,334.93 1073.36,332.11" fill="#333"/>
<polygon points="1050.00,321.30 1055.16,322.27 1053.64,325.09" fill="#333"/>
<polygon points="1256.80,342.10 1288.13,359.83 1288.13,345.43 1256.80,327.70" fill="#ebebeb" stroke="#3a3a3a" stroke-width="0.9" />
<polygon points="1288.13,359.83 1352.54,323.39 1352.54,308.99 1288.13,345.43" fill="#ebebeb" stroke="#3a3a3a" stroke-width="0.9" />
<polygon points="1256.80,327.70 1321.21,291.26 1352.54,308.99 1288.13,345.43" fill="#ebebeb" stroke="#3a3a3a" stroke-width="0.9" />
<ellipse cx="0" cy="0" rx="2.00" ry="2.00" transform="matrix(0.8704,-0.4924,0.8704,0.4924,1316.85,310.47)" fill="#f2f2f2" stroke="#3a3a3a" stroke-width="0.7" vector-effect="non-scaling-stroke"/>
<polygon points="1258.98,331.83 1285.96,347.10 1285.96,355.10 1258.98,339.83" fill="#e2e2e2" stroke="#3a3a3a" stroke-width="0.8" />
<polygon points="1261.15,335.06 1283.78,347.87 1283.78,350.87 1261.15,338.06" fill="#f6f6f6" stroke="#3a3a3a" stroke-width="0.6" />
<polygon points="1278.56,348.61 1286.83,353.29 1258.11,369.54 1249.84,364.86" fill="#f6f6f6" stroke="#3a3a3a" stroke-width="0.7" />
<line x1="1279.86" y1="350.33" x2="1252.01" y2="366.09" stroke="#999" stroke-width="0.5" />
<line x1="1281.78" y1="351.42" x2="1253.93" y2="367.17" stroke="#999" stroke-width="0.5" />
<line x1="1283.69" y1="352.50" x2="1255.84" y2="368.26" stroke="#999" stroke-width="0.5" />
<polygon points="1253.01,396.27 1266.94,388.39 1266.94,372.39 1253.01,380.27" fill="#ebebeb" stroke="#3a3a3a" stroke-width="0.9" />
<line x1="1253.01" y1="388.27" x2="1266.94" y2="380.39" stroke="#3a3a3a" stroke-width="0.7" />
<polygon points="1171.20,426.80 1203.40,445.02 1203.40,429.02 1171.20,410.80" fill="#ebebeb" stroke="#3a3a3a" stroke-width="0.9" />
<polygon points="1203.40,445.02 1271.29,406.61 1271.29,390.61 1203.40,429.02" fill="#ebebeb" stroke="#3a3a3a" stroke-width="0.9" />
<polygon points="1171.20,410.80 1253.01,364.51 1266.94,372.39 1253.01,380.27 1271.29,390.61 1203.40,429.02" fill="#ebebeb" stroke="#3a3a3a" stroke-width="0.9" />
<line x1="1171.20" y1="418.80" x2="1203.40" y2="437.02" stroke="#3a3a3a" stroke-width="0.7" />
<line x1="1203.40" y1="432.02" x2="1271.29" y2="393.61" stroke="#3a3a3a" stroke-width="0.6" />
<polygon points="1174.68,416.77 1178.16,418.74 1178.16,422.74 1174.68,420.77" fill="#ddd" stroke="#3a3a3a" stroke-width="0.7" />
<polygon points="1192.09,410.80 1239.09,384.21 1249.53,390.12 1202.53,416.71" fill="#e2e2e2" stroke="none" stroke-width="0" />
<line x1="1192.35" y1="410.95" x2="1239.35" y2="384.36" stroke="#3a3a3a" stroke-width="0.95" />
<line x1="1194.33" y1="412.07" x2="1241.33" y2="385.48" stroke="#3a3a3a" stroke-width="0.95" />
<line x1="1196.32" y1="413.19" x2="1243.32" y2="386.60" stroke="#3a3a3a" stroke-width="0.95" />
<line x1="1198.30" y1="414.32" x2="1245.30" y2="387.73" stroke="#3a3a3a" stroke-width="0.95" />
<line x1="1200.29" y1="415.44" x2="1247.29" y2="388.85" stroke="#3a3a3a" stroke-width="0.95" />
<line x1="1202.27" y1="416.56" x2="1249.27" y2="389.97" stroke="#3a3a3a" stroke-width="0.95" />
<line x1="1192.09" y1="410.80" x2="1202.53" y2="416.71" stroke="#555" stroke-width="0.6" />
<line x1="1239.09" y1="384.21" x2="1249.53" y2="390.12" stroke="#555" stroke-width="0.6" />
<polygon points="1189.04,400.71 1190.52,400.85 1191.91,400.07 1191.65,399.23" fill="#fafafa" stroke="#3a3a3a" stroke-width="0.7" />
<polygon points="1211.67,387.90 1213.15,388.05 1214.54,387.26 1214.28,386.43" fill="#fafafa" stroke="#3a3a3a" stroke-width="0.7" />
<ellipse cx="0" cy="0" rx="2.80" ry="1.30" transform="matrix(0.8704,-0.4924,0.8704,0.4924,1262.59,389.63)" fill="#c8c8c8" stroke="#444" stroke-width="0.7" vector-effect="non-scaling-stroke"/>
<ellipse cx="0" cy="0" rx="4.50" ry="4.50" transform="matrix(0.8704,-0.4924,0,1,1262.15,404.98)" fill="#ebebeb" stroke="#3a3a3a" stroke-width="0.8" vector-effect="non-scaling-stroke"/>
<polygon points="1259.40,409.74 1263.32,411.96 1268.82,402.44 1264.90,400.22" fill="#ebebeb" stroke="none" stroke-width="0.0" />
<line x1="1259.40" y1="409.74" x2="1263.32" y2="411.96" stroke="#3a3a3a" stroke-width="0.8" />
<line x1="1264.90" y1="400.22" x2="1268.82" y2="402.44" stroke="#3a3a3a" stroke-width="0.8" />
<ellipse cx="0" cy="0" rx="4.50" ry="4.50" transform="matrix(0.8704,-0.4924,0,1,1266.07,407.20)" fill="#ebebeb" stroke="#333" stroke-width="1.0" vector-effect="non-scaling-stroke"/>
<ellipse cx="0" cy="0" rx="3.33" ry="3.33" transform="matrix(0.8704,-0.4924,0,1,1266.07,407.20)" fill="#efefef" stroke="#444" stroke-width="0.9" vector-effect="non-scaling-stroke"/>
<ellipse cx="0" cy="0" rx="4.50" ry="4.50" transform="matrix(0.8704,-0.4924,0,1,1254.54,409.29)" fill="#ebebeb" stroke="#3a3a3a" stroke-width="0.8" vector-effect="non-scaling-stroke"/>
<polygon points="1251.79,414.05 1255.70,416.27 1261.20,406.74 1257.28,404.53" fill="#ebebeb" stroke="none" stroke-width="0.0" />
<line x1="1251.79" y1="414.05" x2="1255.70" y2="416.27" stroke="#3a3a3a" stroke-width="0.8" />
<line x1="1257.28" y1="404.53" x2="1261.20" y2="406.74" stroke="#3a3a3a" stroke-width="0.8" />
<ellipse cx="0" cy="0" rx="4.50" ry="4.50" transform="matrix(0.8704,-0.4924,0,1,1258.45,411.51)" fill="#ebebeb" stroke="#333" stroke-width="1.0" vector-effect="non-scaling-stroke"/>
<ellipse cx="0" cy="0" rx="3.33" ry="3.33" transform="matrix(0.8704,-0.4924,0,1,1258.45,411.51)" fill="#efefef" stroke="#444" stroke-width="0.9" vector-effect="non-scaling-stroke"/>
<ellipse cx="0" cy="0" rx="4.50" ry="4.50" transform="matrix(0.8704,-0.4924,0,1,1246.92,413.60)" fill="#ebebeb" stroke="#3a3a3a" stroke-width="0.8" vector-effect="non-scaling-stroke"/>
<polygon points="1244.17,418.36 1248.09,420.58 1253.59,411.05 1249.67,408.84" fill="#ebebeb" stroke="none" stroke-width="0.0" />
<line x1="1244.17" y1="418.36" x2="1248.09" y2="420.58" stroke="#3a3a3a" stroke-width="0.8" />
<line x1="1249.67" y1="408.84" x2="1253.59" y2="411.05" stroke="#3a3a3a" stroke-width="0.8" />
<ellipse cx="0" cy="0" rx="4.50" ry="4.50" transform="matrix(0.8704,-0.4924,0,1,1250.84,415.81)" fill="#ebebeb" stroke="#333" stroke-width="1.0" vector-effect="non-scaling-stroke"/>
<ellipse cx="0" cy="0" rx="3.33" ry="3.33" transform="matrix(0.8704,-0.4924,0,1,1250.84,415.81)" fill="#efefef" stroke="#444" stroke-width="0.9" vector-effect="non-scaling-stroke"/>
<ellipse cx="0" cy="0" rx="4.50" ry="4.50" transform="matrix(0.8704,-0.4924,0,1,1239.31,417.91)" fill="#ebebeb" stroke="#3a3a3a" stroke-width="0.8" vector-effect="non-scaling-stroke"/>
<polygon points="1236.56,422.67 1240.47,424.88 1245.97,415.36 1242.05,413.15" fill="#ebebeb" stroke="none" stroke-width="0.0" />
<line x1="1236.56" y1="422.67" x2="1240.47" y2="424.88" stroke="#3a3a3a" stroke-width="0.8" />
<line x1="1242.05" y1="413.15" x2="1245.97" y2="415.36" stroke="#3a3a3a" stroke-width="0.8" />
<ellipse cx="0" cy="0" rx="4.50" ry="4.50" transform="matrix(0.8704,-0.4924,0,1,1243.22,420.12)" fill="#ebebeb" stroke="#333" stroke-width="1.0" vector-effect="non-scaling-stroke"/>
<ellipse cx="0" cy="0" rx="3.33" ry="3.33" transform="matrix(0.8704,-0.4924,0,1,1243.22,420.12)" fill="#efefef" stroke="#444" stroke-width="0.9" vector-effect="non-scaling-stroke"/>
<ellipse cx="0" cy="0" rx="4.50" ry="4.50" transform="matrix(0.8704,-0.4924,0,1,1231.69,422.22)" fill="#ebebeb" stroke="#3a3a3a" stroke-width="0.8" vector-effect="non-scaling-stroke"/>
<polygon points="1228.94,426.98 1232.86,429.19 1238.35,419.67 1234.44,417.45" fill="#ebebeb" stroke="none" stroke-width="0.0" />
<line x1="1228.94" y1="426.98" x2="1232.86" y2="429.19" stroke="#3a3a3a" stroke-width="0.8" />
<line x1="1234.44" y1="417.45" x2="1238.35" y2="419.67" stroke="#3a3a3a" stroke-width="0.8" />
<ellipse cx="0" cy="0" rx="4.50" ry="4.50" transform="matrix(0.8704,-0.4924,0,1,1235.61,424.43)" fill="#ebebeb" stroke="#333" stroke-width="1.0" vector-effect="non-scaling-stroke"/>
<ellipse cx="0" cy="0" rx="3.33" ry="3.33" transform="matrix(0.8704,-0.4924,0,1,1235.61,424.43)" fill="#efefef" stroke="#444" stroke-width="0.9" vector-effect="non-scaling-stroke"/>
<ellipse cx="0" cy="0" rx="4.50" ry="4.50" transform="matrix(0.8704,-0.4924,0,1,1224.07,426.52)" fill="#ebebeb" stroke="#3a3a3a" stroke-width="0.8" vector-effect="non-scaling-stroke"/>
<polygon points="1221.33,431.29 1225.24,433.50 1230.74,423.98 1226.82,421.76" fill="#ebebeb" stroke="none" stroke-width="0.0" />
<line x1="1221.33" y1="431.29" x2="1225.24" y2="433.50" stroke="#3a3a3a" stroke-width="0.8" />
<line x1="1226.82" y1="421.76" x2="1230.74" y2="423.98" stroke="#3a3a3a" stroke-width="0.8" />
<ellipse cx="0" cy="0" rx="4.50" ry="4.50" transform="matrix(0.8704,-0.4924,0,1,1227.99,428.74)" fill="#ebebeb" stroke="#333" stroke-width="1.0" vector-effect="non-scaling-stroke"/>
<ellipse cx="0" cy="0" rx="3.33" ry="3.33" transform="matrix(0.8704,-0.4924,0,1,1227.99,428.74)" fill="#efefef" stroke="#444" stroke-width="0.9" vector-effect="non-scaling-stroke"/>
<ellipse cx="0" cy="0" rx="5.30" ry="5.30" transform="matrix(0.8704,-0.4924,0,1,1216.46,430.83)" fill="#ebebeb" stroke="#3a3a3a" stroke-width="0.8" vector-effect="non-scaling-stroke"/>
<polygon points="1213.22,436.44 1217.14,438.66 1223.61,427.44 1219.70,425.23" fill="#ebebeb" stroke="none" stroke-width="0.0" />
<line x1="1213.22" y1="436.44" x2="1217.14" y2="438.66" stroke="#3a3a3a" stroke-width="0.8" />
<line x1="1219.70" y1="425.23" x2="1223.61" y2="427.44" stroke="#3a3a3a" stroke-width="0.8" />
<ellipse cx="0" cy="0" rx="5.30" ry="5.30" transform="matrix(0.8704,-0.4924,0,1,1220.38,433.05)" fill="#ebebeb" stroke="#333" stroke-width="1.0" vector-effect="non-scaling-stroke"/>
<ellipse cx="0" cy="0" rx="3.92" ry="3.92" transform="matrix(0.8704,-0.4924,0,1,1220.38,433.05)" fill="#efefef" stroke="#444" stroke-width="0.9" vector-effect="non-scaling-stroke"/>
<path d="M1170.47,390.01 L1262.89,336.55" fill="none" stroke="#484848" stroke-width="3.90" stroke-linejoin="round"/>
<path d="M1170.47,390.01 L1262.89,336.55" fill="none" stroke="#858585" stroke-width="2.50" stroke-linejoin="round"/>
<polyline points="1178.31,385.58 1190.06,392.23 1182.22,396.66" fill="none" stroke="#4a4a4a" stroke-width="1.9" />
<polyline points="1178.31,385.58 1190.06,392.23 1182.22,396.66" fill="none" stroke="#a8a8a8" stroke-width="0.7" />
<polygon points="1158.20,395.40 1163.60,398.45 1163.60,395.45 1158.20,392.40" fill="#f2f2f2" stroke="#3a3a3a" stroke-width="0.75" />
<polygon points="1163.60,398.45 1173.17,393.04 1173.17,390.04 1163.60,395.45" fill="#f2f2f2" stroke="#3a3a3a" stroke-width="0.75" />
<polygon points="1158.20,392.40 1167.77,386.98 1173.17,390.04 1163.60,395.45" fill="#f2f2f2" stroke="#3a3a3a" stroke-width="0.75" />
<polygon points="1161.68,392.40 1167.77,388.95 1169.69,390.04 1163.60,393.48" fill="#2e2e2e" stroke="#2e2e2e" stroke-width="0.9" stroke-linejoin="round"/>
<line x1="1163.34" y1="392.55" x2="1168.04" y2="389.89" stroke="#bbb" stroke-width="0.5" />
<polygon points="1169.95,402.05 1175.35,405.10 1175.35,402.10 1169.95,399.05" fill="#f2f2f2" stroke="#3a3a3a" stroke-width="0.75" />
<polygon points="1175.35,405.10 1184.92,399.68 1184.92,396.68 1175.35,402.10" fill="#f2f2f2" stroke="#3a3a3a" stroke-width="0.75" />
<polygon points="1169.95,399.05 1179.52,393.63 1184.92,396.68 1175.35,402.10" fill="#f2f2f2" stroke="#3a3a3a" stroke-width="0.75" />
<polygon points="1173.43,399.05 1179.52,395.60 1181.44,396.68 1175.35,400.13" fill="#2e2e2e" stroke="#2e2e2e" stroke-width="0.9" stroke-linejoin="round"/>
<line x1="1175.08" y1="399.20" x2="1179.78" y2="396.54" stroke="#bbb" stroke-width="0.5" />
<line x1="1354.00" y1="307.00" x2="1374.00" y2="300.00" stroke="#555" stroke-width="0.6" />
<line x1="1354.00" y1="323.50" x2="1374.00" y2="350.00" stroke="#555" stroke-width="0.6" />
<line x1="1370.70" y1="301.70" x2="1370.70" y2="349.30" stroke="#444" stroke-width="0.65" />
<polygon points="1370.70,316.00 1369.10,311.00 1372.30,311.00" fill="#333"/>
<polygon points="1370.70,333.50 1372.30,338.50 1369.10,338.50" fill="#333"/>
<line x1="1290.00" y1="358.50" x2="1312.00" y2="371.00" stroke="#555" stroke-width="0.6" />
<line x1="1352.00" y1="323.50" x2="1372.00" y2="334.00" stroke="#555" stroke-width="0.6" />
<line x1="1311.60" y1="369.50" x2="1370.70" y2="334.90" stroke="#444" stroke-width="0.65" />
<polygon points="1370.70,334.90 1367.19,338.81 1365.58,336.05" fill="#333"/>
<polygon points="1311.60,369.50 1315.11,365.59 1316.72,368.35" fill="#333"/>
<line x1="1257.00" y1="338.00" x2="1240.00" y2="347.00" stroke="#555" stroke-width="0.6" />
<line x1="1283.00" y1="354.00" x2="1270.00" y2="363.00" stroke="#555" stroke-width="0.6" />
<line x1="1242.40" y1="346.40" x2="1272.70" y2="362.30" stroke="#444" stroke-width="0.65" />
<polygon points="1272.70,362.30 1267.53,361.39 1269.02,358.56" fill="#333"/>
<polygon points="1242.40,346.40 1247.57,347.31 1246.08,350.14" fill="#333"/>
<line x1="1264.50" y1="422.60" x2="1276.00" y2="429.00" stroke="#3a3a3a" stroke-width="2.6" />
<line x1="1264.50" y1="422.60" x2="1276.00" y2="429.00" stroke="#eee" stroke-width="1.0" />
<ellipse cx="0" cy="0" rx="4.30" ry="4.30" transform="matrix(0.8704,-0.4924,0,1,1272.70,432.30)" fill="#f2f2f2" stroke="#3a3a3a" stroke-width="0.8" vector-effect="non-scaling-stroke"/>
<path d="M1272.7,432.3 L1306.1,449.3" stroke="#3a3a3a" stroke-width="10.2" stroke-linecap="butt"/>
<path d="M1272.7,432.3 L1306.1,449.3" stroke="#f4f4f4" stroke-width="8.6" stroke-linecap="butt"/>
<ellipse cx="0" cy="0" rx="4.30" ry="4.30" transform="matrix(0.8704,-0.4924,0,1,1272.70,432.30)" fill="none" stroke="#3a3a3a" stroke-width="0.8" vector-effect="non-scaling-stroke"/>
<polygon points="1301.50,453.50 1309.33,449.07 1366.78,481.57 1358.94,486.00" fill="#ececec" stroke="#3a3a3a" stroke-width="0.7" />
<line x1="1302.63" y1="452.86" x2="1360.07" y2="485.36" stroke="#6a6a6a" stroke-width="0.5" />
<line x1="1303.76" y1="452.22" x2="1361.21" y2="484.72" stroke="#6a6a6a" stroke-width="0.5" />
<line x1="1304.89" y1="451.58" x2="1362.34" y2="484.08" stroke="#6a6a6a" stroke-width="0.5" />
<line x1="1306.03" y1="450.94" x2="1363.47" y2="483.44" stroke="#6a6a6a" stroke-width="0.5" />
<line x1="1307.16" y1="450.30" x2="1364.60" y2="482.80" stroke="#6a6a6a" stroke-width="0.5" />
<line x1="1308.29" y1="449.66" x2="1365.73" y2="482.16" stroke="#6a6a6a" stroke-width="0.5" />
<path d="M1329.14,470.53 q2,-2 4,-1 q2,1 4,-1 q2,-2 4,-1" stroke="#fff" stroke-width="2.2" fill="none"/>
<polygon points="1375.00,494.50 1497.72,563.93 1497.72,565.23 1375.00,495.80" fill="#e6e6e6" stroke="#3a3a3a" stroke-width="0.8" />
<polygon points="1375.00,494.50 1383.70,489.58 1506.42,559.01 1497.72,563.93" fill="#f6f6f6" stroke="#3a3a3a" stroke-width="0.8" />
<ellipse cx="0" cy="0" rx="2.00" ry="2.00" transform="matrix(0.8704,-0.4924,0.8704,0.4924,1391.10,498.69)" fill="#ddd" stroke="#3a3a3a" stroke-width="0.9" vector-effect="non-scaling-stroke"/>
<ellipse cx="0" cy="0" rx="3.00" ry="1.40" transform="matrix(0.8704,-0.4924,0.8704,0.4924,1395.11,500.95)" fill="#eee" stroke="#3a3a3a" stroke-width="0.9" vector-effect="non-scaling-stroke"/>
<ellipse cx="0" cy="0" rx="2.00" ry="2.00" transform="matrix(0.8704,-0.4924,0.8704,0.4924,1398.93,503.12)" fill="#ddd" stroke="#3a3a3a" stroke-width="0.9" vector-effect="non-scaling-stroke"/>
<ellipse cx="0" cy="0" rx="2.00" ry="2.00" transform="matrix(0.8704,-0.4924,0.8704,0.4924,1410.34,509.57)" fill="#ddd" stroke="#3a3a3a" stroke-width="0.9" vector-effect="non-scaling-stroke"/>
<ellipse cx="0" cy="0" rx="3.00" ry="1.40" transform="matrix(0.8704,-0.4924,0.8704,0.4924,1414.34,511.83)" fill="#eee" stroke="#3a3a3a" stroke-width="0.9" vector-effect="non-scaling-stroke"/>
<ellipse cx="0" cy="0" rx="2.00" ry="2.00" transform="matrix(0.8704,-0.4924,0.8704,0.4924,1418.17,514.00)" fill="#ddd" stroke="#3a3a3a" stroke-width="0.9" vector-effect="non-scaling-stroke"/>
<ellipse cx="0" cy="0" rx="2.00" ry="2.00" transform="matrix(0.8704,-0.4924,0.8704,0.4924,1429.57,520.45)" fill="#ddd" stroke="#3a3a3a" stroke-width="0.9" vector-effect="non-scaling-stroke"/>
<ellipse cx="0" cy="0" rx="3.00" ry="1.40" transform="matrix(0.8704,-0.4924,0.8704,0.4924,1433.57,522.72)" fill="#eee" stroke="#3a3a3a" stroke-width="0.9" vector-effect="non-scaling-stroke"/>
<ellipse cx="0" cy="0" rx="2.00" ry="2.00" transform="matrix(0.8704,-0.4924,0.8704,0.4924,1437.40,524.88)" fill="#ddd" stroke="#3a3a3a" stroke-width="0.9" vector-effect="non-scaling-stroke"/>
<ellipse cx="0" cy="0" rx="2.00" ry="2.00" transform="matrix(0.8704,-0.4924,0.8704,0.4924,1448.81,531.33)" fill="#ddd" stroke="#3a3a3a" stroke-width="0.9" vector-effect="non-scaling-stroke"/>
<ellipse cx="0" cy="0" rx="3.00" ry="1.40" transform="matrix(0.8704,-0.4924,0.8704,0.4924,1452.81,533.60)" fill="#eee" stroke="#3a3a3a" stroke-width="0.9" vector-effect="non-scaling-stroke"/>
<ellipse cx="0" cy="0" rx="2.00" ry="2.00" transform="matrix(0.8704,-0.4924,0.8704,0.4924,1456.64,535.77)" fill="#ddd" stroke="#3a3a3a" stroke-width="0.9" vector-effect="non-scaling-stroke"/>
<ellipse cx="0" cy="0" rx="2.00" ry="2.00" transform="matrix(0.8704,-0.4924,0.8704,0.4924,1468.04,542.22)" fill="#ddd" stroke="#3a3a3a" stroke-width="0.9" vector-effect="non-scaling-stroke"/>
<ellipse cx="0" cy="0" rx="3.00" ry="1.40" transform="matrix(0.8704,-0.4924,0.8704,0.4924,1472.04,544.48)" fill="#eee" stroke="#3a3a3a" stroke-width="0.9" vector-effect="non-scaling-stroke"/>
<ellipse cx="0" cy="0" rx="2.00" ry="2.00" transform="matrix(0.8704,-0.4924,0.8704,0.4924,1475.87,546.65)" fill="#ddd" stroke="#3a3a3a" stroke-width="0.9" vector-effect="non-scaling-stroke"/>
<ellipse cx="0" cy="0" rx="2.00" ry="2.00" transform="matrix(0.8704,-0.4924,0.8704,0.4924,1487.28,553.10)" fill="#ddd" stroke="#3a3a3a" stroke-width="0.9" vector-effect="non-scaling-stroke"/>
<ellipse cx="0" cy="0" rx="3.00" ry="1.40" transform="matrix(0.8704,-0.4924,0.8704,0.4924,1491.28,555.36)" fill="#eee" stroke="#3a3a3a" stroke-width="0.9" vector-effect="non-scaling-stroke"/>
<ellipse cx="0" cy="0" rx="2.00" ry="2.00" transform="matrix(0.8704,-0.4924,0.8704,0.4924,1495.11,557.53)" fill="#ddd" stroke="#3a3a3a" stroke-width="0.9" vector-effect="non-scaling-stroke"/>
<line x1="1429.40" y1="523.80" x2="1432.44" y2="525.52" stroke="#333" stroke-width="0.9" />
<line x1="1432.44" y1="522.08" x2="1435.49" y2="523.80" stroke="#333" stroke-width="0.9" />
<line x1="1435.49" y1="520.35" x2="1438.54" y2="522.08" stroke="#333" stroke-width="0.9" />
<line x1="1428.09" y1="524.54" x2="1436.80" y2="519.61" stroke="#333" stroke-width="0.8" />
<line x1="1494.67" y1="560.73" x2="1497.72" y2="562.45" stroke="#333" stroke-width="0.9" />
<line x1="1497.72" y1="559.01" x2="1500.77" y2="560.73" stroke="#333" stroke-width="0.9" />
<line x1="1500.77" y1="557.28" x2="1503.81" y2="559.01" stroke="#333" stroke-width="0.9" />
<line x1="1493.37" y1="561.47" x2="1502.07" y2="556.55" stroke="#333" stroke-width="0.8" />
<polygon points="1359.50,490.20 1377.78,500.54 1377.78,494.54 1359.50,484.20" fill="#ececec" stroke="#3a3a3a" stroke-width="0.8" />
<polygon points="1377.78,500.54 1386.48,495.62 1386.48,489.62 1377.78,494.54" fill="#ececec" stroke="#3a3a3a" stroke-width="0.8" />
<polygon points="1359.50,484.20 1368.20,479.28 1386.48,489.62 1377.78,494.54" fill="#ececec" stroke="#3a3a3a" stroke-width="0.8" />
<polygon points="1382.50,495.50 1385.98,497.47 1385.98,489.47 1382.50,487.50" fill="#ececec" stroke="#3a3a3a" stroke-width="0.7" />
<polygon points="1385.98,497.47 1388.59,495.99 1388.59,487.99 1385.98,489.47" fill="#ececec" stroke="#3a3a3a" stroke-width="0.7" />
<polygon points="1382.50,487.50 1385.11,486.02 1388.59,487.99 1385.98,489.47" fill="#ececec" stroke="#3a3a3a" stroke-width="0.7" />
<rect x="1424" y="232" width="72" height="131" rx="10" fill="#555"/>
<rect x="1432" y="242" width="56" height="104.5" rx="2" fill="#fafafa"/>
<rect x="1453" y="236" width="15" height="2.2" rx="1" fill="#fafafa"/>
<circle cx="1460" cy="354.3" r="3.6" fill="#fafafa"/>
<path d="M66.90,462.60 L140.00,503.00" fill="none" stroke="#3a3a3a" stroke-width="4.80" stroke-linejoin="round" stroke-linecap="butt"/>
<path d="M66.90,462.60 L140.00,503.00" fill="none" stroke="#f6f6f6" stroke-width="3.20" stroke-linejoin="round" stroke-linecap="butt"/>
<path d="M97.5,474.5 q1.5,3 -0.5,6" stroke="#fff" stroke-width="1.6" fill="none"/>
<path d="M214.60,546.50 L282.00,583.00" fill="none" stroke="#3a3a3a" stroke-width="4.80" stroke-linejoin="round" stroke-linecap="butt"/>
<path d="M214.60,546.50 L282.00,583.00" fill="none" stroke="#f6f6f6" stroke-width="3.20" stroke-linejoin="round" stroke-linecap="butt"/>
<path d="M243.5,557.5 q1.5,3 -0.5,6" stroke="#fff" stroke-width="1.6" fill="none"/>
<path d="M18.6,424.5 L30,431" stroke="#3a3a3a" stroke-width="4.6" stroke-linecap="round"/>
<path d="M18.6,424.5 L30,431" stroke="#e6e6e6" stroke-width="3.0" stroke-linecap="round"/>
<line x1="23.67" y1="430.08" x2="26.07" y2="426.08" stroke="#3a3a3a" stroke-width="0.7" />
<path d="M1.9,434.7 L15,442" stroke="#3a3a3a" stroke-width="4.6" stroke-linecap="round"/>
<path d="M1.9,434.7 L15,442" stroke="#e6e6e6" stroke-width="3.0" stroke-linecap="round"/>
<line x1="7.91" y1="440.72" x2="10.30" y2="436.72" stroke="#3a3a3a" stroke-width="0.7" />
<polygon points="11.20,447.70 16.30,438.40 37.20,426.40 54.80,435.20 59.50,452.00 57.00,462.50 50.00,465.00 23.70,456.10" fill="#ebebeb" stroke="#3a3a3a" stroke-width="0.9" />
<polygon points="16.30,438.40 37.20,426.40 54.80,435.20 29.70,445.40" fill="#ececec" stroke="#3a3a3a" stroke-width="0.8" />
<line x1="29.70" y1="445.40" x2="23.70" y2="456.10" stroke="#3a3a3a" stroke-width="0.8" />
<polygon points="29.70,445.40 54.80,435.20 59.50,452.00" fill="#cfcfcf" stroke="#3a3a3a" stroke-width="0.6" />
<line x1="29.70" y1="445.40" x2="59.50" y2="452.00" stroke="#444" stroke-width="0.6" />
<line x1="33.88" y1="443.70" x2="59.50" y2="452.00" stroke="#444" stroke-width="0.6" />
<line x1="38.07" y1="442.00" x2="59.50" y2="452.00" stroke="#444" stroke-width="0.6" />
<line x1="42.25" y1="440.30" x2="59.50" y2="452.00" stroke="#444" stroke-width="0.6" />
<line x1="46.43" y1="438.60" x2="59.50" y2="452.00" stroke="#444" stroke-width="0.6" />
<line x1="50.62" y1="436.90" x2="59.50" y2="452.00" stroke="#444" stroke-width="0.6" />
<line x1="54.80" y1="435.20" x2="59.50" y2="452.00" stroke="#444" stroke-width="0.6" />
<path d="M24.5,456.5 Q40,455 57,460.5" stroke="#555" stroke-width="0.7" fill="none"/>
<polygon points="56.70,456.10 66.90,451.50 74.30,455.20 73.40,464.50 64.10,471.00 56.70,468.20" fill="#ebebeb" stroke="#3a3a3a" stroke-width="0.9" />
<line x1="56.70" y1="456.10" x2="64.10" y2="460.00" stroke="#3a3a3a" stroke-width="0.6" />
<line x1="64.10" y1="460.00" x2="74.30" y2="455.20" stroke="#3a3a3a" stroke-width="0.6" />
<line x1="64.10" y1="460.00" x2="64.10" y2="471.00" stroke="#3a3a3a" stroke-width="0.6" />
<ellipse cx="0" cy="0" rx="2.00" ry="2.00" transform="matrix(0.8704,0.4924,0,1,67.50,462.80)" fill="#f6f6f6" stroke="#3a3a3a" stroke-width="0.8" vector-effect="non-scaling-stroke"/>
<path d="M67.50,462.80 L75.00,466.90" fill="none" stroke="#3a3a3a" stroke-width="4.80" stroke-linejoin="round" stroke-linecap="butt"/>
<path d="M67.50,462.80 L75.00,466.90" fill="none" stroke="#f6f6f6" stroke-width="3.20" stroke-linejoin="round" stroke-linecap="butt"/>
<polygon points="118.35,501.30 118.56,500.40 119.17,499.56 120.15,498.84 144.52,485.05 145.80,484.50 147.28,484.15 148.87,484.03 150.47,484.15 151.95,484.50 153.22,485.05 222.85,524.44 223.83,525.16 224.45,526.00 224.66,526.91 224.66,543.91 224.45,544.81 223.83,545.65 222.85,546.37 198.48,560.16 197.21,560.71 195.72,561.06 194.13,561.18 192.54,561.06 191.06,560.71 189.78,560.16 120.15,520.76 119.17,520.04 118.56,519.20 118.35,518.30" fill="#ebebeb" stroke="#3a3a3a" stroke-width="0.9" />
<rect x="0.00" y="0.00" width="38.00" height="90.00" rx="5" transform="matrix(0.8704,-0.4924,0.8704,0.4924,115.80,501.30)" fill="#ebebeb" stroke="#3a3a3a" stroke-width="0.9" vector-effect="non-scaling-stroke"/>
<line x1="127.11" y1="507.70" x2="127.11" y2="524.20" stroke="#3a3a3a" stroke-width="0.8" />
<line x1="181.08" y1="538.23" x2="181.08" y2="554.73" stroke="#3a3a3a" stroke-width="0.8" />
<line x1="127.11" y1="507.70" x2="181.08" y2="538.23" stroke="#3a3a3a" stroke-width="0.8" />
<path d="M127.11,507.70 Q135.82,493.91 154.97,486.03" stroke="#3a3a3a" stroke-width="0.8" fill="none"/>
<path d="M181.08,538.23 Q205.45,533.31 219.37,522.47" stroke="#3a3a3a" stroke-width="0.8" fill="none"/>
<line x1="191.52" y1="545.16" x2="222.85" y2="527.43" stroke="#3a3a3a" stroke-width="0.7" />
<ellipse cx="0" cy="0" rx="2.90" ry="2.10" transform="matrix(0.8704,-0.4924,0.8704,0.4924,145.48,490.02)" fill="#8a8a8a" stroke="#333" stroke-width="0.9" vector-effect="non-scaling-stroke"/>
<ellipse cx="0" cy="0" rx="1.50" ry="1.00" transform="matrix(0.8704,-0.4924,0.8704,0.4924,145.48,490.02)" fill="#d0d0d0" stroke="#444" stroke-width="0.5" vector-effect="non-scaling-stroke"/>
<ellipse cx="0" cy="0" rx="2.90" ry="2.10" transform="matrix(0.8704,-0.4924,0.8704,0.4924,127.98,499.92)" fill="#8a8a8a" stroke="#333" stroke-width="0.9" vector-effect="non-scaling-stroke"/>
<ellipse cx="0" cy="0" rx="1.50" ry="1.00" transform="matrix(0.8704,-0.4924,0.8704,0.4924,127.98,499.92)" fill="#d0d0d0" stroke="#444" stroke-width="0.5" vector-effect="non-scaling-stroke"/>
<ellipse cx="0" cy="0" rx="2.90" ry="2.10" transform="matrix(0.8704,-0.4924,0.8704,0.4924,210.23,527.25)" fill="#8a8a8a" stroke="#333" stroke-width="0.9" vector-effect="non-scaling-stroke"/>
<ellipse cx="0" cy="0" rx="1.50" ry="1.00" transform="matrix(0.8704,-0.4924,0.8704,0.4924,210.23,527.25)" fill="#d0d0d0" stroke="#444" stroke-width="0.5" vector-effect="non-scaling-stroke"/>
<ellipse cx="0" cy="0" rx="2.90" ry="2.10" transform="matrix(0.8704,-0.4924,0.8704,0.4924,192.65,537.20)" fill="#8a8a8a" stroke="#333" stroke-width="0.9" vector-effect="non-scaling-stroke"/>
<ellipse cx="0" cy="0" rx="1.50" ry="1.00" transform="matrix(0.8704,-0.4924,0.8704,0.4924,192.65,537.20)" fill="#d0d0d0" stroke="#444" stroke-width="0.5" vector-effect="non-scaling-stroke"/>
<polygon points="202.00,557.00 210.00,553.00 216.00,556.50 208.00,561.00" fill="#ebebeb" stroke="#3a3a3a" stroke-width="0.7" />
<path d="M214.60,547.50 L224.00,552.60" fill="none" stroke="#3a3a3a" stroke-width="4.80" stroke-linejoin="round" stroke-linecap="butt"/>
<path d="M214.60,547.50 L224.00,552.60" fill="none" stroke="#f6f6f6" stroke-width="3.20" stroke-linejoin="round" stroke-linecap="butt"/>
<polygon points="269.62,586.91 269.87,585.83 270.61,584.83 271.78,583.96 283.97,577.07 285.50,576.40 287.28,575.99 289.19,575.84 291.10,575.99 292.88,576.40 294.41,577.07 330.97,597.75 332.14,598.61 332.88,599.62 333.13,600.70 333.13,610.70 332.88,611.78 332.14,612.79 330.97,613.66 318.78,620.55 317.25,621.22 315.47,621.63 313.56,621.77 311.65,621.63 309.87,621.22 308.34,620.55 271.78,599.87 270.61,599.00 269.87,598.00 269.62,596.91" fill="#ebebeb" stroke="#3a3a3a" stroke-width="0.9" />
<rect x="0.00" y="-2.00" width="26.00" height="54.00" rx="6" transform="matrix(0.8704,-0.4924,0.8704,0.4924,268.30,587.90)" fill="#ebebeb" stroke="#3a3a3a" stroke-width="0.9" vector-effect="non-scaling-stroke"/>
<rect x="2.00" y="0.00" width="22.00" height="50.00" rx="5" transform="matrix(0.8704,-0.4924,0.8704,0.4924,268.30,587.90)" fill="#efefef" stroke="#3a3a3a" stroke-width="0.6" vector-effect="non-scaling-stroke"/>
<line x1="268.30" y1="588.90" x2="311.82" y2="613.52" stroke="#3a3a3a" stroke-width="0.7" />
<path d="M274.05,595.78 L274.05,598.78 Q276.05,601.48 278.05,599.28 L278.05,596.48" stroke="#3a3a3a" stroke-width="0.9" fill="#f4f4f4"/>
<path d="M279.79,599.03 L279.79,602.03 Q281.79,604.73 283.79,602.53 L283.79,599.73" stroke="#3a3a3a" stroke-width="0.9" fill="#f4f4f4"/>
<path d="M285.53,602.28 L285.53,605.28 Q287.53,607.98 289.53,605.78 L289.53,602.98" stroke="#3a3a3a" stroke-width="0.9" fill="#f4f4f4"/>
<path d="M291.28,605.53 L291.28,608.53 Q293.28,611.23 295.28,609.03 L295.28,606.23" stroke="#3a3a3a" stroke-width="0.9" fill="#f4f4f4"/>
<path d="M297.02,608.78 L297.02,611.78 Q299.02,614.48 301.02,612.28 L301.02,609.48" stroke="#3a3a3a" stroke-width="0.9" fill="#f4f4f4"/>
<path d="M302.77,612.03 L302.77,615.03 Q304.77,617.73 306.77,615.53 L306.77,612.73" stroke="#3a3a3a" stroke-width="0.9" fill="#f4f4f4"/>
<text transform="translate(374.40,113.00) skewY(-29.5) scale(0.88,1)" font-size="12.5" font-weight="normal" text-anchor="start" fill="#2a2a2a" >40</text>
<text transform="matrix(0.8268,0.4678,-0.8704,0.4924,477.00,132.70)" font-size="12.5" fill="#2a2a2a">160</text>
<text transform="translate(547.50,198.00) skewY(-29.5) scale(0.88,1)" font-size="12.5" font-weight="normal" text-anchor="start" fill="#2a2a2a" >8</text>
<text transform="translate(285.50,353.50) skewY(-29.5) scale(0.88,1)" font-size="12.5" font-weight="normal" text-anchor="start" fill="#2a2a2a" >101</text>
<text transform="translate(321.00,321.50) skewY(-29.5) scale(0.88,1)" font-size="12.5" font-weight="normal" text-anchor="start" fill="#2a2a2a" >16</text>
<text transform="matrix(0.8268,0.4678,-0.8704,0.4924,313.90,285.90)" font-size="12.5" fill="#2a2a2a">44</text>
<text transform="matrix(0.8268,0.4678,-0.8704,0.4924,678.80,187.50)" font-size="12.5" fill="#2a2a2a">53</text>
<text transform="translate(733.10,233.20) skewY(-29.5) scale(0.88,1)" font-size="12.5" font-weight="normal" text-anchor="start" fill="#2a2a2a" >28</text>
<text transform="translate(655.30,320.10) skewY(-29.5) scale(0.88,1)" font-size="12.5" font-weight="normal" text-anchor="start" fill="#2a2a2a" >170</text>
<text transform="translate(908.20,335.60) skewY(-29.5) scale(0.88,1)" font-size="12.5" font-weight="normal" text-anchor="start" fill="#2a2a2a" >145</text>
<text transform="translate(974.90,270.30) skewY(-29.5) scale(0.88,1)" font-size="12.5" font-weight="normal" text-anchor="start" fill="#2a2a2a" >16</text>
<text transform="matrix(0.8268,0.4678,-0.8704,0.4924,923.40,219.90)" font-size="12.5" fill="#2a2a2a">46</text>
<text transform="translate(1045.80,393.10) skewY(-29.5) scale(0.88,1)" font-size="12.5" font-weight="normal" text-anchor="start" fill="#2a2a2a" >56</text>
<text transform="translate(1066.00,402.00) skewY(-29.5) scale(0.88,1)" font-size="12.5" font-weight="normal" text-anchor="start" fill="#2a2a2a" >73</text>
<text transform="translate(1098.50,367.30) skewY(-29.5) scale(0.88,1)" font-size="12.5" font-weight="normal" text-anchor="start" fill="#2a2a2a" >18</text>
<text transform="matrix(0.8268,0.4678,-0.8704,0.4924,1074.00,329.00)" font-size="12.5" fill="#2a2a2a">30</text>
<text transform="translate(1378.00,332.00) skewY(-29.5) scale(0.88,1)" font-size="12.5" font-weight="normal" text-anchor="start" fill="#2a2a2a" >12</text>
<text transform="translate(1339.00,369.50) skewY(-29.5) scale(0.88,1)" font-size="12.5" font-weight="normal" text-anchor="start" fill="#2a2a2a" >60</text>
<text transform="matrix(0.8268,0.4678,-0.8704,0.4924,1272.20,372.30)" font-size="12.5" fill="#2a2a2a">30</text>
</svg></body></html>
